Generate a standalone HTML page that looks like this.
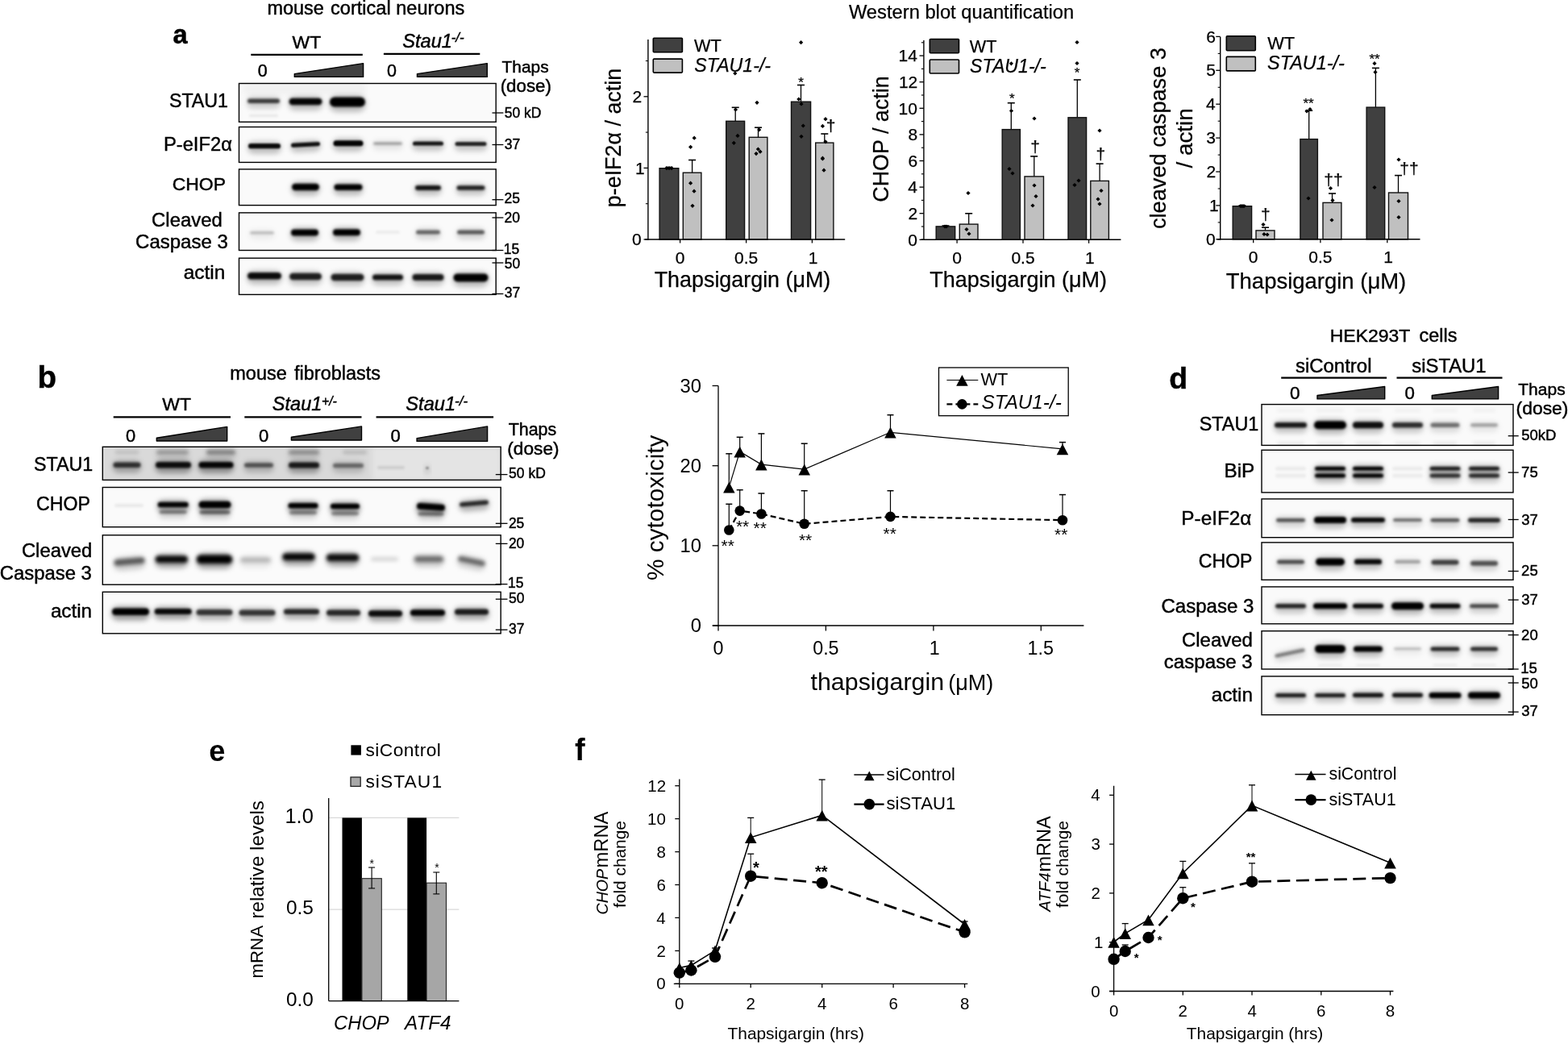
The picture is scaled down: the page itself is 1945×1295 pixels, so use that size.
<!DOCTYPE html><html><head><meta charset="utf-8"><title>Figure</title><style>html,body{margin:0;padding:0;background:#fff;width:1945px;height:1295px;overflow:hidden}svg{display:block}</style></head><body><svg width="1945" height="1295" viewBox="0 0 1945 1295" font-family='"Liberation Sans", Arial, sans-serif'><defs><filter id="b0" x="-50%" y="-400%" width="200%" height="900%"><feGaussianBlur stdDeviation="3.0"/></filter><filter id="b1" x="-50%" y="-400%" width="200%" height="900%"><feGaussianBlur stdDeviation="1.4"/></filter><filter id="b2" x="-50%" y="-400%" width="200%" height="900%"><feGaussianBlur stdDeviation="1.5"/></filter><filter id="b3" x="-50%" y="-400%" width="200%" height="900%"><feGaussianBlur stdDeviation="1.3"/></filter><filter id="b4" x="-50%" y="-400%" width="200%" height="900%"><feGaussianBlur stdDeviation="2.0"/></filter><filter id="b5" x="-50%" y="-400%" width="200%" height="900%"><feGaussianBlur stdDeviation="1.6"/></filter><filter id="b6" x="-50%" y="-400%" width="200%" height="900%"><feGaussianBlur stdDeviation="1.8"/></filter><filter id="b7" x="-50%" y="-400%" width="200%" height="900%"><feGaussianBlur stdDeviation="1.2"/></filter><filter id="b8" x="-50%" y="-400%" width="200%" height="900%"><feGaussianBlur stdDeviation="2.3"/></filter><filter id="b9" x="-50%" y="-400%" width="200%" height="900%"><feGaussianBlur stdDeviation="2.6"/></filter><filter id="b10" x="-50%" y="-400%" width="200%" height="900%"><feGaussianBlur stdDeviation="2.4"/></filter><filter id="b11" x="-50%" y="-400%" width="200%" height="900%"><feGaussianBlur stdDeviation="1.9"/></filter><filter id="b12" x="-50%" y="-400%" width="200%" height="900%"><feGaussianBlur stdDeviation="2.2"/></filter></defs><rect width="1945" height="1295" fill="#fff"/><text x="214.4" y="54.0" font-size="32.52" font-weight="bold" stroke="#000" stroke-width="0.45">a</text>
<text x="331.4" y="17.5" font-size="23.49" stroke="#000" stroke-width="0.45">mouse</text>
<text x="410.1" y="17.5" font-size="23.56" stroke="#000" stroke-width="0.45">cortical neurons</text>
<text x="362.6" y="59.6" font-size="22.88" stroke="#000" stroke-width="0.45">WT</text>
<line x1="311.3" y1="67.9" x2="449.8" y2="67.9" stroke="#000" stroke-width="2.2"/>
<text x="499.2" y="58.9" font-size="23.65" font-style="italic" stroke="#000" stroke-width="0.45">Stau1</text>
<text x="559.7" y="52.3" font-size="17.01" font-style="italic" stroke="#000" stroke-width="0.45">-/-</text>
<line x1="475.9" y1="66.9" x2="595.3" y2="66.9" stroke="#000" stroke-width="2.2"/>
<text x="319.7" y="94.6" font-size="21.46" stroke="#000" stroke-width="0.45">0</text>
<text x="480.1" y="94.6" font-size="21.46" stroke="#000" stroke-width="0.45">0</text>
<polygon points="365.3,95.4 365.3,91.6 450.6,78.6 450.6,95.4" fill="#404040" stroke="#000" stroke-width="1.4" stroke-linejoin="round"/>
<polygon points="517.5,95.4 517.5,91.6 604.3,78.6 604.3,95.4" fill="#404040" stroke="#000" stroke-width="1.4" stroke-linejoin="round"/>
<text x="622.6" y="89.5" font-size="20.92" stroke="#000" stroke-width="0.45">Thaps</text>
<text x="620.7" y="114.0" font-size="22.32" stroke="#000" stroke-width="0.45">(dose)</text>
<rect x="296.5" y="103.5" width="318.7" height="47.8" fill="#fafafa" stroke="none" stroke-width="1.0"/>
<rect x="296.5" y="157.5" width="318.7" height="43.9" fill="#fafafa" stroke="none" stroke-width="1.0"/>
<rect x="296.5" y="209.9" width="318.7" height="44.7" fill="#fafafa" stroke="none" stroke-width="1.0"/>
<rect x="296.5" y="263.9" width="318.7" height="46.6" fill="#fafafa" stroke="none" stroke-width="1.0"/>
<rect x="296.5" y="320.2" width="318.7" height="45.2" fill="#fafafa" stroke="none" stroke-width="1.0"/>
<rect x="302" y="104" width="152" height="14" fill="#000" fill-opacity="0.035" filter="url(#b0)"/>
<rect x="306.0" y="120.0" width="42.0" height="14.5" rx="7.2" fill="#000" fill-opacity="0.180" filter="url(#b0)"/>
<rect x="307.0" y="122.5" width="40.0" height="5.5" rx="2.8" fill="#000" fill-opacity="0.720" filter="url(#b1)"/>
<rect x="309.0" y="142.0" width="36.0" height="3.0" rx="1.5" fill="#000" fill-opacity="0.080" filter="url(#b2)"/>
<rect x="357.5" y="119.2" width="43.0" height="17.5" rx="8.8" fill="#000" fill-opacity="0.245" filter="url(#b0)"/>
<rect x="358.5" y="121.8" width="41.0" height="8.5" rx="4.2" fill="#000" fill-opacity="0.980" filter="url(#b1)"/>
<rect x="408.0" y="118.0" width="46.0" height="21.0" rx="10.5" fill="#000" fill-opacity="0.250" filter="url(#b0)"/>
<rect x="409.0" y="120.5" width="44.0" height="12.0" rx="6.0" fill="#000" fill-opacity="1.000" filter="url(#b2)"/>
<rect x="307.0" y="175.6" width="42.0" height="15.2" rx="7.6" fill="#000" fill-opacity="0.237" filter="url(#b0)"/>
<rect x="308.0" y="178.1" width="40.0" height="6.2" rx="3.1" fill="#000" fill-opacity="0.950" filter="url(#b3)"/>
<rect x="360.0" y="174.2" width="38.0" height="14.2" rx="7.1" fill="#000" fill-opacity="0.230" filter="url(#b0)" transform="rotate(-3 379.0 179.3)"/>
<rect x="361.0" y="176.7" width="36.0" height="5.2" rx="2.6" fill="#000" fill-opacity="0.920" filter="url(#b3)" transform="rotate(-3 379.0 179.3)"/>
<rect x="412.5" y="171.7" width="39.0" height="16.0" rx="8.0" fill="#000" fill-opacity="0.245" filter="url(#b0)"/>
<rect x="413.5" y="174.2" width="37.0" height="7.0" rx="3.5" fill="#000" fill-opacity="0.980" filter="url(#b3)"/>
<rect x="462.0" y="173.7" width="38.0" height="12.6" rx="6.3" fill="#000" fill-opacity="0.080" filter="url(#b0)"/>
<rect x="463.0" y="176.2" width="36.0" height="3.6" rx="1.8" fill="#000" fill-opacity="0.320" filter="url(#b1)"/>
<rect x="511.0" y="172.9" width="40.0" height="14.2" rx="7.1" fill="#000" fill-opacity="0.220" filter="url(#b0)"/>
<rect x="512.0" y="175.4" width="38.0" height="5.2" rx="2.6" fill="#000" fill-opacity="0.880" filter="url(#b3)"/>
<rect x="563.5" y="173.5" width="41.0" height="14.0" rx="7.0" fill="#000" fill-opacity="0.205" filter="url(#b0)"/>
<rect x="564.5" y="176.0" width="39.0" height="5.0" rx="2.5" fill="#000" fill-opacity="0.820" filter="url(#b3)"/>
<rect x="361.0" y="225.2" width="36.0" height="17.5" rx="8.8" fill="#000" fill-opacity="0.250" filter="url(#b0)"/>
<rect x="362.0" y="227.8" width="34.0" height="8.5" rx="4.2" fill="#000" fill-opacity="1.000" filter="url(#b1)"/>
<rect x="413.5" y="226.1" width="37.0" height="16.5" rx="8.2" fill="#000" fill-opacity="0.250" filter="url(#b0)"/>
<rect x="414.5" y="228.6" width="35.0" height="7.5" rx="3.8" fill="#000" fill-opacity="1.000" filter="url(#b1)"/>
<rect x="514.0" y="227.5" width="34.0" height="15.0" rx="7.5" fill="#000" fill-opacity="0.225" filter="url(#b0)"/>
<rect x="515.0" y="230.0" width="32.0" height="6.0" rx="3.0" fill="#000" fill-opacity="0.900" filter="url(#b1)"/>
<rect x="565.5" y="227.8" width="37.0" height="14.5" rx="7.2" fill="#000" fill-opacity="0.212" filter="url(#b0)"/>
<rect x="566.5" y="230.2" width="35.0" height="5.5" rx="2.8" fill="#000" fill-opacity="0.850" filter="url(#b1)"/>
<rect x="309.0" y="284.4" width="32.0" height="12.5" rx="6.2" fill="#000" fill-opacity="0.055" filter="url(#b0)"/>
<rect x="310.0" y="286.9" width="30.0" height="3.5" rx="1.8" fill="#000" fill-opacity="0.220" filter="url(#b2)"/>
<rect x="360.0" y="282.1" width="36.0" height="17.0" rx="8.5" fill="#000" fill-opacity="0.250" filter="url(#b0)"/>
<rect x="361.0" y="284.6" width="34.0" height="8.0" rx="4.0" fill="#000" fill-opacity="1.000" filter="url(#b1)"/>
<rect x="412.0" y="281.8" width="36.0" height="17.0" rx="8.5" fill="#000" fill-opacity="0.250" filter="url(#b0)"/>
<rect x="413.0" y="284.3" width="34.0" height="8.0" rx="4.0" fill="#000" fill-opacity="1.000" filter="url(#b1)"/>
<rect x="466.0" y="286.5" width="30.0" height="3.0" rx="1.5" fill="#000" fill-opacity="0.070" filter="url(#b2)"/>
<rect x="515.0" y="283.0" width="32.0" height="14.0" rx="7.0" fill="#000" fill-opacity="0.138" filter="url(#b0)"/>
<rect x="516.0" y="285.5" width="30.0" height="5.0" rx="2.5" fill="#000" fill-opacity="0.550" filter="url(#b2)"/>
<rect x="566.0" y="283.0" width="36.0" height="14.0" rx="7.0" fill="#000" fill-opacity="0.150" filter="url(#b0)"/>
<rect x="567.0" y="285.5" width="34.0" height="5.0" rx="2.5" fill="#000" fill-opacity="0.600" filter="url(#b2)"/>
<rect x="306.0" y="335.4" width="44.0" height="17.5" rx="8.8" fill="#000" fill-opacity="0.237" filter="url(#b0)"/>
<rect x="307.0" y="337.9" width="42.0" height="8.5" rx="4.2" fill="#000" fill-opacity="0.950" filter="url(#b2)"/>
<rect x="358.0" y="336.2" width="42.0" height="17.5" rx="8.8" fill="#000" fill-opacity="0.212" filter="url(#b0)"/>
<rect x="359.0" y="338.8" width="40.0" height="8.5" rx="4.2" fill="#000" fill-opacity="0.850" filter="url(#b2)"/>
<rect x="409.5" y="337.2" width="43.0" height="17.5" rx="8.8" fill="#000" fill-opacity="0.212" filter="url(#b0)"/>
<rect x="410.5" y="339.8" width="41.0" height="8.5" rx="4.2" fill="#000" fill-opacity="0.850" filter="url(#b2)"/>
<rect x="461.0" y="338.0" width="40.0" height="16.0" rx="8.0" fill="#000" fill-opacity="0.225" filter="url(#b0)"/>
<rect x="462.0" y="340.5" width="38.0" height="7.0" rx="3.5" fill="#000" fill-opacity="0.900" filter="url(#b2)"/>
<rect x="510.5" y="337.5" width="41.0" height="17.0" rx="8.5" fill="#000" fill-opacity="0.220" filter="url(#b0)"/>
<rect x="511.5" y="340.0" width="39.0" height="8.0" rx="4.0" fill="#000" fill-opacity="0.880" filter="url(#b2)"/>
<rect x="561.5" y="336.9" width="45.0" height="19.0" rx="9.5" fill="#000" fill-opacity="0.250" filter="url(#b0)"/>
<rect x="562.5" y="339.4" width="43.0" height="10.0" rx="5.0" fill="#000" fill-opacity="1.000" filter="url(#b2)"/>
<rect x="296.5" y="103.5" width="318.7" height="47.8" fill="none" stroke="#000" stroke-width="1.4"/>
<rect x="296.5" y="157.5" width="318.7" height="43.9" fill="none" stroke="#000" stroke-width="1.4"/>
<rect x="296.5" y="209.9" width="318.7" height="44.7" fill="none" stroke="#000" stroke-width="1.4"/>
<rect x="296.5" y="263.9" width="318.7" height="46.6" fill="none" stroke="#000" stroke-width="1.4"/>
<rect x="296.5" y="320.2" width="318.7" height="45.2" fill="none" stroke="#000" stroke-width="1.4"/>
<text x="209.9" y="132.8" font-size="23.23" stroke="#000" stroke-width="0.45">STAU1</text>
<text x="202.9" y="186.8" font-size="23.78" stroke="#000" stroke-width="0.45">P-eIF2α</text>
<text x="213.7" y="236.1" font-size="22.98" stroke="#000" stroke-width="0.45">CHOP</text>
<text x="188.1" y="280.8" font-size="23.88" stroke="#000" stroke-width="0.45">Cleaved</text>
<text x="168.1" y="308.3" font-size="24.01" stroke="#000" stroke-width="0.45">Caspase 3</text>
<text x="227.7" y="345.6" font-size="24.44" stroke="#000" stroke-width="0.45">actin</text>
<line x1="610.5" y1="140.0" x2="624.4" y2="140.0" stroke="#000" stroke-width="1.3"/>
<text x="625.8" y="145.9" font-size="17.5" stroke="#000" stroke-width="0.45">50 kD</text>
<line x1="610.5" y1="179.5" x2="624.4" y2="179.5" stroke="#000" stroke-width="1.3"/>
<text x="625.8" y="185.2" font-size="17.5" stroke="#000" stroke-width="0.45">37</text>
<line x1="610.5" y1="247.7" x2="624.4" y2="247.7" stroke="#000" stroke-width="1.3"/>
<text x="625.6" y="252.3" font-size="17.5" stroke="#000" stroke-width="0.45">25</text>
<line x1="610.5" y1="270.0" x2="624.4" y2="270.0" stroke="#000" stroke-width="1.3"/>
<text x="625.6" y="276.2" font-size="17.5" stroke="#000" stroke-width="0.45">20</text>
<line x1="610.5" y1="310.5" x2="624.4" y2="310.5" stroke="#000" stroke-width="1.3"/>
<text x="624.8" y="314.8" font-size="17.5" stroke="#000" stroke-width="0.45">15</text>
<line x1="610.5" y1="326.0" x2="624.4" y2="326.0" stroke="#000" stroke-width="1.3"/>
<text x="625.8" y="332.5" font-size="17.5" stroke="#000" stroke-width="0.45">50</text>
<line x1="610.5" y1="364.5" x2="624.4" y2="364.5" stroke="#000" stroke-width="1.3"/>
<text x="625.8" y="368.8" font-size="17.5" stroke="#000" stroke-width="0.45">37</text>
<text x="1052.9" y="23.1" font-size="23.74" stroke="#000" stroke-width="0.25">Western blot quantification</text>
<line x1="830.0" y1="208.7" x2="830.0" y2="207.5" stroke="#000" stroke-width="1.3"/>
<line x1="825.5" y1="207.5" x2="834.5" y2="207.5" stroke="#000" stroke-width="1.6"/>
<line x1="858.6" y1="214.2" x2="858.6" y2="198.5" stroke="#000" stroke-width="1.3"/>
<line x1="854.1" y1="198.5" x2="863.1" y2="198.5" stroke="#000" stroke-width="1.6"/>
<line x1="912.2" y1="150.3" x2="912.2" y2="133.3" stroke="#000" stroke-width="1.3"/>
<line x1="907.7" y1="133.3" x2="916.7" y2="133.3" stroke="#000" stroke-width="1.6"/>
<line x1="940.5" y1="170.3" x2="940.5" y2="158.2" stroke="#000" stroke-width="1.3"/>
<line x1="936.0" y1="158.2" x2="945.0" y2="158.2" stroke="#000" stroke-width="1.6"/>
<line x1="993.5" y1="126.2" x2="993.5" y2="105.5" stroke="#000" stroke-width="1.3"/>
<line x1="989.0" y1="105.5" x2="998.0" y2="105.5" stroke="#000" stroke-width="1.6"/>
<line x1="1022.8" y1="177.1" x2="1022.8" y2="166.0" stroke="#000" stroke-width="1.3"/>
<line x1="1018.3" y1="166.0" x2="1027.3" y2="166.0" stroke="#000" stroke-width="1.6"/>
<rect x="818.1" y="208.7" width="23.7" height="88.3" fill="#404040" stroke="#111" stroke-width="1.4"/>
<rect x="847.3" y="214.2" width="22.6" height="82.8" fill="#c0c0c0" stroke="#111" stroke-width="1.4"/>
<rect x="900.7" y="150.3" width="22.9" height="146.7" fill="#404040" stroke="#111" stroke-width="1.4"/>
<rect x="929.2" y="170.3" width="22.7" height="126.7" fill="#c0c0c0" stroke="#111" stroke-width="1.4"/>
<rect x="981.5" y="126.2" width="24.1" height="170.8" fill="#404040" stroke="#111" stroke-width="1.4"/>
<rect x="1011.7" y="177.1" width="22.2" height="119.9" fill="#c0c0c0" stroke="#111" stroke-width="1.4"/>
<line x1="803.9" y1="49.0" x2="803.9" y2="297.7" stroke="#000" stroke-width="1.4"/>
<line x1="800.2" y1="297.0" x2="1048.2" y2="297.0" stroke="#000" stroke-width="1.4"/>
<line x1="798.5" y1="297.0" x2="803.9" y2="297.0" stroke="#000" stroke-width="1.3"/>
<text x="784.1" y="304.2" font-size="21" stroke="#000" stroke-width="0.25">0</text>
<line x1="798.5" y1="208.4" x2="803.9" y2="208.4" stroke="#000" stroke-width="1.3"/>
<text x="787.9" y="215.6" font-size="21" stroke="#000" stroke-width="0.25">1</text>
<line x1="798.5" y1="119.8" x2="803.9" y2="119.8" stroke="#000" stroke-width="1.3"/>
<text x="784.4" y="127.2" font-size="21" stroke="#000" stroke-width="0.25">2</text>
<line x1="800.9" y1="252.7" x2="803.9" y2="252.7" stroke="#000" stroke-width="1.1"/>
<line x1="800.9" y1="164.1" x2="803.9" y2="164.1" stroke="#000" stroke-width="1.1"/>
<line x1="800.9" y1="75.5" x2="803.9" y2="75.5" stroke="#000" stroke-width="1.1"/>
<line x1="843.6" y1="297.0" x2="843.6" y2="301.5" stroke="#000" stroke-width="1.3"/>
<text x="837.7" y="326.5" font-size="21" stroke="#000" stroke-width="0.25">0</text>
<line x1="925.6" y1="297.0" x2="925.6" y2="301.5" stroke="#000" stroke-width="1.3"/>
<text x="911.0" y="326.5" font-size="21" stroke="#000" stroke-width="0.25">0.5</text>
<line x1="1007.4" y1="297.0" x2="1007.4" y2="301.5" stroke="#000" stroke-width="1.3"/>
<text x="1002.8" y="326.5" font-size="21" stroke="#000" stroke-width="0.25">1</text>
<rect x="810.3" y="47.2" width="36.1" height="17.6" fill="#404040" stroke="#000" stroke-width="1.6" rx="1"/>
<rect x="810.3" y="73.1" width="36.1" height="17.0" fill="#c0c0c0" stroke="#000" stroke-width="1.6" rx="1"/>
<text x="861.1" y="63.5" font-size="21.76" stroke="#000" stroke-width="0.25">WT</text>
<text x="861.3" y="89.4" font-size="23.17" font-style="italic" stroke="#000" stroke-width="0.25">STAU1-/-</text>
<text x="811.7" y="355.5" font-size="26.89" stroke="#000" stroke-width="0.25">Thapsigargin (μM)</text>
<text x="769.7" y="257.2" font-size="26.89" transform="rotate(-90 769.7 257.2)" stroke="#000" stroke-width="0.25">p-eIF2α / actin</text>
<polygon points="993.6,50.1 996.2,52.7 993.6,55.3 991.0,52.7" fill="#000" stroke="none" stroke-width="1.0" stroke-linejoin="round"/>
<polygon points="911.8,88.4 914.4,91.0 911.8,93.6 909.2,91.0" fill="#000" stroke="none" stroke-width="1.0" stroke-linejoin="round"/>
<polygon points="939.0,124.7 941.6,127.3 939.0,129.9 936.4,127.3" fill="#000" stroke="none" stroke-width="1.0" stroke-linejoin="round"/>
<polygon points="912.5,133.4 915.1,136.0 912.5,138.6 909.9,136.0" fill="#000" stroke="none" stroke-width="1.0" stroke-linejoin="round"/>
<polygon points="990.8,120.4 993.4,123.0 990.8,125.6 988.2,123.0" fill="#000" stroke="none" stroke-width="1.0" stroke-linejoin="round"/>
<polygon points="994.0,126.4 996.6,129.0 994.0,131.6 991.4,129.0" fill="#000" stroke="none" stroke-width="1.0" stroke-linejoin="round"/>
<polygon points="996.3,153.4 998.9,156.0 996.3,158.6 993.7,156.0" fill="#000" stroke="none" stroke-width="1.0" stroke-linejoin="round"/>
<polygon points="994.0,166.7 996.6,169.3 994.0,171.9 991.4,169.3" fill="#000" stroke="none" stroke-width="1.0" stroke-linejoin="round"/>
<polygon points="1024.0,145.1 1026.6,147.7 1024.0,150.3 1021.4,147.7" fill="#000" stroke="none" stroke-width="1.0" stroke-linejoin="round"/>
<polygon points="1020.4,153.8 1023.0,156.4 1020.4,159.0 1017.8,156.4" fill="#000" stroke="none" stroke-width="1.0" stroke-linejoin="round"/>
<polygon points="1024.0,173.2 1026.6,175.8 1024.0,178.4 1021.4,175.8" fill="#000" stroke="none" stroke-width="1.0" stroke-linejoin="round"/>
<polygon points="1020.4,193.6 1023.0,196.2 1020.4,198.8 1017.8,196.2" fill="#000" stroke="none" stroke-width="1.0" stroke-linejoin="round"/>
<polygon points="941.7,158.4 944.3,161.0 941.7,163.6 939.1,161.0" fill="#000" stroke="none" stroke-width="1.0" stroke-linejoin="round"/>
<polygon points="915.0,165.8 917.6,168.4 915.0,171.0 912.4,168.4" fill="#000" stroke="none" stroke-width="1.0" stroke-linejoin="round"/>
<polygon points="910.3,174.7 912.9,177.3 910.3,179.9 907.7,177.3" fill="#000" stroke="none" stroke-width="1.0" stroke-linejoin="round"/>
<polygon points="940.4,182.4 943.0,185.0 940.4,187.6 937.8,185.0" fill="#000" stroke="none" stroke-width="1.0" stroke-linejoin="round"/>
<polygon points="938.0,188.0 940.6,190.6 938.0,193.2 935.4,190.6" fill="#000" stroke="none" stroke-width="1.0" stroke-linejoin="round"/>
<polygon points="943.0,185.6 945.6,188.2 943.0,190.8 940.4,188.2" fill="#000" stroke="none" stroke-width="1.0" stroke-linejoin="round"/>
<polygon points="861.2,168.6 863.8,171.2 861.2,173.8 858.6,171.2" fill="#000" stroke="none" stroke-width="1.0" stroke-linejoin="round"/>
<polygon points="856.6,179.7 859.2,182.3 856.6,184.9 854.0,182.3" fill="#000" stroke="none" stroke-width="1.0" stroke-linejoin="round"/>
<polygon points="856.6,224.6 859.2,227.2 856.6,229.8 854.0,227.2" fill="#000" stroke="none" stroke-width="1.0" stroke-linejoin="round"/>
<polygon points="861.0,234.6 863.6,237.2 861.0,239.8 858.4,237.2" fill="#000" stroke="none" stroke-width="1.0" stroke-linejoin="round"/>
<polygon points="859.0,252.7 861.6,255.3 859.0,257.9 856.4,255.3" fill="#000" stroke="none" stroke-width="1.0" stroke-linejoin="round"/>
<polygon points="827.0,206.1 829.6,208.7 827.0,211.3 824.4,208.7" fill="#000" stroke="none" stroke-width="1.0" stroke-linejoin="round"/>
<polygon points="830.0,206.1 832.6,208.7 830.0,211.3 827.4,208.7" fill="#000" stroke="none" stroke-width="1.0" stroke-linejoin="round"/>
<polygon points="833.0,206.1 835.6,208.7 833.0,211.3 830.4,208.7" fill="#000" stroke="none" stroke-width="1.0" stroke-linejoin="round"/>
<polygon points="1020.4,194.4 1023.0,197.0 1020.4,199.6 1017.8,197.0" fill="#000" stroke="none" stroke-width="1.0" stroke-linejoin="round"/>
<polygon points="1022.0,208.6 1024.6,211.2 1022.0,213.8 1019.4,211.2" fill="#000" stroke="none" stroke-width="1.0" stroke-linejoin="round"/>
<text x="990.3" y="108.3" font-size="17" stroke="#000" stroke-width="0.25">*</text>
<text x="1024.8" y="162.9" font-size="21" stroke="#000" stroke-width="0.25">†</text>
<line x1="1173.0" y1="280.9" x2="1173.0" y2="280.0" stroke="#000" stroke-width="1.3"/>
<line x1="1168.5" y1="280.0" x2="1177.5" y2="280.0" stroke="#000" stroke-width="1.6"/>
<line x1="1201.7" y1="278.1" x2="1201.7" y2="264.8" stroke="#000" stroke-width="1.3"/>
<line x1="1197.2" y1="264.8" x2="1206.2" y2="264.8" stroke="#000" stroke-width="1.6"/>
<line x1="1254.3" y1="160.6" x2="1254.3" y2="127.7" stroke="#000" stroke-width="1.3"/>
<line x1="1249.8" y1="127.7" x2="1258.8" y2="127.7" stroke="#000" stroke-width="1.6"/>
<line x1="1282.8" y1="218.9" x2="1282.8" y2="193.9" stroke="#000" stroke-width="1.3"/>
<line x1="1278.2" y1="193.9" x2="1287.2" y2="193.9" stroke="#000" stroke-width="1.6"/>
<line x1="1336.3" y1="145.8" x2="1336.3" y2="99.0" stroke="#000" stroke-width="1.3"/>
<line x1="1331.8" y1="99.0" x2="1340.8" y2="99.0" stroke="#000" stroke-width="1.6"/>
<line x1="1364.1" y1="224.4" x2="1364.1" y2="203.1" stroke="#000" stroke-width="1.3"/>
<line x1="1359.6" y1="203.1" x2="1368.6" y2="203.1" stroke="#000" stroke-width="1.6"/>
<rect x="1161.2" y="280.9" width="23.5" height="16.4" fill="#404040" stroke="#111" stroke-width="1.4"/>
<rect x="1190.3" y="278.1" width="22.7" height="19.2" fill="#c0c0c0" stroke="#111" stroke-width="1.4"/>
<rect x="1243.2" y="160.6" width="22.2" height="136.7" fill="#404040" stroke="#111" stroke-width="1.4"/>
<rect x="1271.0" y="218.9" width="23.5" height="78.4" fill="#c0c0c0" stroke="#111" stroke-width="1.4"/>
<rect x="1325.0" y="145.8" width="22.6" height="151.5" fill="#404040" stroke="#111" stroke-width="1.4"/>
<rect x="1352.8" y="224.4" width="22.6" height="72.9" fill="#c0c0c0" stroke="#111" stroke-width="1.4"/>
<line x1="1145.9" y1="50.0" x2="1145.9" y2="298.0" stroke="#000" stroke-width="1.4"/>
<line x1="1142.7" y1="297.3" x2="1390.4" y2="297.3" stroke="#000" stroke-width="1.4"/>
<line x1="1140.5" y1="297.3" x2="1145.9" y2="297.3" stroke="#000" stroke-width="1.3"/>
<text x="1126.3" y="304.5" font-size="21" stroke="#000" stroke-width="0.25">0</text>
<line x1="1140.5" y1="264.7" x2="1145.9" y2="264.7" stroke="#000" stroke-width="1.3"/>
<text x="1126.6" y="272.1" font-size="21" stroke="#000" stroke-width="0.25">2</text>
<line x1="1140.5" y1="232.1" x2="1145.9" y2="232.1" stroke="#000" stroke-width="1.3"/>
<text x="1126.2" y="239.3" font-size="21" stroke="#000" stroke-width="0.25">4</text>
<line x1="1140.5" y1="199.5" x2="1145.9" y2="199.5" stroke="#000" stroke-width="1.3"/>
<text x="1126.4" y="206.7" font-size="21" stroke="#000" stroke-width="0.25">6</text>
<line x1="1140.5" y1="166.9" x2="1145.9" y2="166.9" stroke="#000" stroke-width="1.3"/>
<text x="1126.4" y="174.1" font-size="21" stroke="#000" stroke-width="0.25">8</text>
<line x1="1140.5" y1="134.3" x2="1145.9" y2="134.3" stroke="#000" stroke-width="1.3"/>
<text x="1114.6" y="141.5" font-size="21" stroke="#000" stroke-width="0.25">10</text>
<line x1="1140.5" y1="101.7" x2="1145.9" y2="101.7" stroke="#000" stroke-width="1.3"/>
<text x="1114.9" y="109.0" font-size="21" stroke="#000" stroke-width="0.25">12</text>
<line x1="1140.5" y1="69.1" x2="1145.9" y2="69.1" stroke="#000" stroke-width="1.3"/>
<text x="1114.5" y="76.3" font-size="21" stroke="#000" stroke-width="0.25">14</text>
<line x1="1142.9" y1="281.0" x2="1145.9" y2="281.0" stroke="#000" stroke-width="1.1"/>
<line x1="1142.9" y1="248.4" x2="1145.9" y2="248.4" stroke="#000" stroke-width="1.1"/>
<line x1="1142.9" y1="215.8" x2="1145.9" y2="215.8" stroke="#000" stroke-width="1.1"/>
<line x1="1142.9" y1="183.2" x2="1145.9" y2="183.2" stroke="#000" stroke-width="1.1"/>
<line x1="1142.9" y1="150.6" x2="1145.9" y2="150.6" stroke="#000" stroke-width="1.1"/>
<line x1="1142.9" y1="118.0" x2="1145.9" y2="118.0" stroke="#000" stroke-width="1.1"/>
<line x1="1142.9" y1="85.4" x2="1145.9" y2="85.4" stroke="#000" stroke-width="1.1"/>
<line x1="1142.9" y1="52.8" x2="1145.9" y2="52.8" stroke="#000" stroke-width="1.1"/>
<line x1="1187.1" y1="297.3" x2="1187.1" y2="301.8" stroke="#000" stroke-width="1.3"/>
<text x="1181.2" y="326.8" font-size="21" stroke="#000" stroke-width="0.25">0</text>
<line x1="1269.0" y1="297.3" x2="1269.0" y2="301.8" stroke="#000" stroke-width="1.3"/>
<text x="1254.4" y="326.8" font-size="21" stroke="#000" stroke-width="0.25">0.5</text>
<line x1="1350.6" y1="297.3" x2="1350.6" y2="301.8" stroke="#000" stroke-width="1.3"/>
<text x="1346.0" y="326.8" font-size="21" stroke="#000" stroke-width="0.25">1</text>
<rect x="1153.3" y="48.5" width="36.2" height="17.2" fill="#404040" stroke="#000" stroke-width="1.6" rx="1"/>
<rect x="1153.3" y="74.0" width="36.2" height="17.0" fill="#c0c0c0" stroke="#000" stroke-width="1.6" rx="1"/>
<text x="1202.8" y="65.0" font-size="21.63" stroke="#000" stroke-width="0.25">WT</text>
<text x="1203.1" y="89.5" font-size="23.14" font-style="italic" stroke="#000" stroke-width="0.25">STAU1-/-</text>
<text x="1153.3" y="355.5" font-size="27.02" stroke="#000" stroke-width="0.25">Thapsigargin (μM)</text>
<text x="1102.0" y="250.7" font-size="26.88" transform="rotate(-90 1102.0 250.7)" stroke="#000" stroke-width="0.25">CHOP / actin</text>
<polygon points="1336.0,49.9 1338.6,52.5 1336.0,55.1 1333.4,52.5" fill="#000" stroke="none" stroke-width="1.0" stroke-linejoin="round"/>
<polygon points="1336.0,75.9 1338.6,78.5 1336.0,81.1 1333.4,78.5" fill="#000" stroke="none" stroke-width="1.0" stroke-linejoin="round"/>
<polygon points="1254.4,76.2 1257.0,78.8 1254.4,81.4 1251.8,78.8" fill="#000" stroke="none" stroke-width="1.0" stroke-linejoin="round"/>
<polygon points="1254.5,134.9 1257.1,137.5 1254.5,140.1 1251.9,137.5" fill="#000" stroke="none" stroke-width="1.0" stroke-linejoin="round"/>
<polygon points="1283.0,144.4 1285.6,147.0 1283.0,149.6 1280.4,147.0" fill="#000" stroke="none" stroke-width="1.0" stroke-linejoin="round"/>
<polygon points="1364.0,159.4 1366.6,162.0 1364.0,164.6 1361.4,162.0" fill="#000" stroke="none" stroke-width="1.0" stroke-linejoin="round"/>
<polygon points="1252.0,206.9 1254.6,209.5 1252.0,212.1 1249.4,209.5" fill="#000" stroke="none" stroke-width="1.0" stroke-linejoin="round"/>
<polygon points="1256.0,212.4 1258.6,215.0 1256.0,217.6 1253.4,215.0" fill="#000" stroke="none" stroke-width="1.0" stroke-linejoin="round"/>
<polygon points="1283.0,227.4 1285.6,230.0 1283.0,232.6 1280.4,230.0" fill="#000" stroke="none" stroke-width="1.0" stroke-linejoin="round"/>
<polygon points="1285.0,240.9 1287.6,243.5 1285.0,246.1 1282.4,243.5" fill="#000" stroke="none" stroke-width="1.0" stroke-linejoin="round"/>
<polygon points="1281.0,252.4 1283.6,255.0 1281.0,257.6 1278.4,255.0" fill="#000" stroke="none" stroke-width="1.0" stroke-linejoin="round"/>
<polygon points="1333.0,226.9 1335.6,229.5 1333.0,232.1 1330.4,229.5" fill="#000" stroke="none" stroke-width="1.0" stroke-linejoin="round"/>
<polygon points="1338.0,221.4 1340.6,224.0 1338.0,226.6 1335.4,224.0" fill="#000" stroke="none" stroke-width="1.0" stroke-linejoin="round"/>
<polygon points="1366.0,233.9 1368.6,236.5 1366.0,239.1 1363.4,236.5" fill="#000" stroke="none" stroke-width="1.0" stroke-linejoin="round"/>
<polygon points="1362.0,244.4 1364.6,247.0 1362.0,249.6 1359.4,247.0" fill="#000" stroke="none" stroke-width="1.0" stroke-linejoin="round"/>
<polygon points="1364.0,250.4 1366.6,253.0 1364.0,255.6 1361.4,253.0" fill="#000" stroke="none" stroke-width="1.0" stroke-linejoin="round"/>
<polygon points="1201.0,236.9 1203.6,239.5 1201.0,242.1 1198.4,239.5" fill="#000" stroke="none" stroke-width="1.0" stroke-linejoin="round"/>
<polygon points="1199.0,281.9 1201.6,284.5 1199.0,287.1 1196.4,284.5" fill="#000" stroke="none" stroke-width="1.0" stroke-linejoin="round"/>
<polygon points="1202.0,287.4 1204.6,290.0 1202.0,292.6 1199.4,290.0" fill="#000" stroke="none" stroke-width="1.0" stroke-linejoin="round"/>
<polygon points="1172.0,278.4 1174.6,281.0 1172.0,283.6 1169.4,281.0" fill="#000" stroke="none" stroke-width="1.0" stroke-linejoin="round"/>
<polygon points="1174.0,278.4 1176.6,281.0 1174.0,283.6 1171.4,281.0" fill="#000" stroke="none" stroke-width="1.0" stroke-linejoin="round"/>
<text x="1251.9" y="127.8" font-size="17" stroke="#000" stroke-width="0.25">*</text>
<text x="1332.7" y="96.3" font-size="17" stroke="#000" stroke-width="0.25">*</text>
<text x="1278.2" y="188.9" font-size="21" stroke="#000" stroke-width="0.25">†</text>
<text x="1359.4" y="197.9" font-size="21" stroke="#000" stroke-width="0.25">†</text>
<line x1="1540.9" y1="255.7" x2="1540.9" y2="255.0" stroke="#000" stroke-width="1.3"/>
<line x1="1536.4" y1="255.0" x2="1545.4" y2="255.0" stroke="#000" stroke-width="1.6"/>
<line x1="1569.5" y1="285.9" x2="1569.5" y2="282.2" stroke="#000" stroke-width="1.3"/>
<line x1="1565.0" y1="282.2" x2="1574.0" y2="282.2" stroke="#000" stroke-width="1.6"/>
<line x1="1623.7" y1="172.6" x2="1623.7" y2="137.2" stroke="#000" stroke-width="1.3"/>
<line x1="1619.2" y1="137.2" x2="1628.2" y2="137.2" stroke="#000" stroke-width="1.6"/>
<line x1="1652.5" y1="251.4" x2="1652.5" y2="240.0" stroke="#000" stroke-width="1.3"/>
<line x1="1648.0" y1="240.0" x2="1657.0" y2="240.0" stroke="#000" stroke-width="1.6"/>
<line x1="1706.4" y1="133.1" x2="1706.4" y2="84.4" stroke="#000" stroke-width="1.3"/>
<line x1="1701.9" y1="84.4" x2="1710.9" y2="84.4" stroke="#000" stroke-width="1.6"/>
<line x1="1734.5" y1="239.0" x2="1734.5" y2="217.6" stroke="#000" stroke-width="1.3"/>
<line x1="1730.0" y1="217.6" x2="1739.0" y2="217.6" stroke="#000" stroke-width="1.6"/>
<rect x="1529.2" y="255.7" width="23.4" height="41.1" fill="#404040" stroke="#111" stroke-width="1.4"/>
<rect x="1558.0" y="285.9" width="23.0" height="10.9" fill="#c0c0c0" stroke="#111" stroke-width="1.4"/>
<rect x="1612.9" y="172.6" width="21.5" height="124.2" fill="#404040" stroke="#111" stroke-width="1.4"/>
<rect x="1641.0" y="251.4" width="22.9" height="45.4" fill="#c0c0c0" stroke="#111" stroke-width="1.4"/>
<rect x="1695.1" y="133.1" width="22.6" height="163.7" fill="#404040" stroke="#111" stroke-width="1.4"/>
<rect x="1722.5" y="239.0" width="24.0" height="57.8" fill="#c0c0c0" stroke="#111" stroke-width="1.4"/>
<line x1="1513.7" y1="45.7" x2="1513.7" y2="297.5" stroke="#000" stroke-width="1.4"/>
<line x1="1510.0" y1="296.8" x2="1761.5" y2="296.8" stroke="#000" stroke-width="1.4"/>
<line x1="1508.3" y1="296.8" x2="1513.7" y2="296.8" stroke="#000" stroke-width="1.3"/>
<text x="1496.1" y="304.0" font-size="21" stroke="#000" stroke-width="0.25">0</text>
<line x1="1508.3" y1="254.9" x2="1513.7" y2="254.9" stroke="#000" stroke-width="1.3"/>
<text x="1499.9" y="262.1" font-size="21" stroke="#000" stroke-width="0.25">1</text>
<line x1="1508.3" y1="213.0" x2="1513.7" y2="213.0" stroke="#000" stroke-width="1.3"/>
<text x="1496.4" y="220.3" font-size="21" stroke="#000" stroke-width="0.25">2</text>
<line x1="1508.3" y1="171.1" x2="1513.7" y2="171.1" stroke="#000" stroke-width="1.3"/>
<text x="1496.2" y="178.3" font-size="21" stroke="#000" stroke-width="0.25">3</text>
<line x1="1508.3" y1="129.2" x2="1513.7" y2="129.2" stroke="#000" stroke-width="1.3"/>
<text x="1496.0" y="136.4" font-size="21" stroke="#000" stroke-width="0.25">4</text>
<line x1="1508.3" y1="87.3" x2="1513.7" y2="87.3" stroke="#000" stroke-width="1.3"/>
<text x="1496.2" y="94.4" font-size="21" stroke="#000" stroke-width="0.25">5</text>
<line x1="1508.3" y1="45.4" x2="1513.7" y2="45.4" stroke="#000" stroke-width="1.3"/>
<text x="1496.2" y="52.6" font-size="21" stroke="#000" stroke-width="0.25">6</text>
<line x1="1510.7" y1="275.9" x2="1513.7" y2="275.9" stroke="#000" stroke-width="1.1"/>
<line x1="1510.7" y1="234.0" x2="1513.7" y2="234.0" stroke="#000" stroke-width="1.1"/>
<line x1="1510.7" y1="192.1" x2="1513.7" y2="192.1" stroke="#000" stroke-width="1.1"/>
<line x1="1510.7" y1="150.2" x2="1513.7" y2="150.2" stroke="#000" stroke-width="1.1"/>
<line x1="1510.7" y1="108.3" x2="1513.7" y2="108.3" stroke="#000" stroke-width="1.1"/>
<line x1="1510.7" y1="66.4" x2="1513.7" y2="66.4" stroke="#000" stroke-width="1.1"/>
<line x1="1554.7" y1="296.8" x2="1554.7" y2="301.3" stroke="#000" stroke-width="1.3"/>
<text x="1548.8" y="326.3" font-size="21" stroke="#000" stroke-width="0.25">0</text>
<line x1="1637.9" y1="296.8" x2="1637.9" y2="301.3" stroke="#000" stroke-width="1.3"/>
<text x="1623.3" y="326.3" font-size="21" stroke="#000" stroke-width="0.25">0.5</text>
<line x1="1720.8" y1="296.8" x2="1720.8" y2="301.3" stroke="#000" stroke-width="1.3"/>
<text x="1716.2" y="326.3" font-size="21" stroke="#000" stroke-width="0.25">1</text>
<rect x="1521.3" y="44.7" width="36.0" height="18.1" fill="#404040" stroke="#000" stroke-width="1.6" rx="1"/>
<rect x="1521.3" y="70.4" width="36.0" height="17.5" fill="#c0c0c0" stroke="#000" stroke-width="1.6" rx="1"/>
<text x="1572.2" y="61.1" font-size="21.83" stroke="#000" stroke-width="0.25">WT</text>
<text x="1572.0" y="86.2" font-size="23.44" font-style="italic" stroke="#000" stroke-width="0.25">STAU1-/-</text>
<text x="1520.8" y="357.9" font-size="27.47" stroke="#000" stroke-width="0.25">Thapsigargin (μM)</text>
<text x="1445.7" y="284.0" font-size="27.17" transform="rotate(-90 1445.7 284.0)" stroke="#000" stroke-width="0.25">cleaved caspase 3</text>
<text x="1479.2" y="208.6" font-size="27.92" transform="rotate(-90 1479.2 208.6)" stroke="#000" stroke-width="0.25">/ actin</text>
<polygon points="1621.0,135.4 1623.6,138.0 1621.0,140.6 1618.4,138.0" fill="#000" stroke="none" stroke-width="1.0" stroke-linejoin="round"/>
<polygon points="1625.0,132.9 1627.6,135.5 1625.0,138.1 1622.4,135.5" fill="#000" stroke="none" stroke-width="1.0" stroke-linejoin="round"/>
<polygon points="1705.0,76.1 1707.6,78.7 1705.0,81.3 1702.4,78.7" fill="#000" stroke="none" stroke-width="1.0" stroke-linejoin="round"/>
<polygon points="1706.0,86.9 1708.6,89.5 1706.0,92.1 1703.4,89.5" fill="#000" stroke="none" stroke-width="1.0" stroke-linejoin="round"/>
<polygon points="1623.0,243.4 1625.6,246.0 1623.0,248.6 1620.4,246.0" fill="#000" stroke="none" stroke-width="1.0" stroke-linejoin="round"/>
<polygon points="1705.0,229.9 1707.6,232.5 1705.0,235.1 1702.4,232.5" fill="#000" stroke="none" stroke-width="1.0" stroke-linejoin="round"/>
<polygon points="1650.5,230.9 1653.1,233.5 1650.5,236.1 1647.9,233.5" fill="#000" stroke="none" stroke-width="1.0" stroke-linejoin="round"/>
<polygon points="1653.0,245.9 1655.6,248.5 1653.0,251.1 1650.4,248.5" fill="#000" stroke="none" stroke-width="1.0" stroke-linejoin="round"/>
<polygon points="1652.0,270.4 1654.6,273.0 1652.0,275.6 1649.4,273.0" fill="#000" stroke="none" stroke-width="1.0" stroke-linejoin="round"/>
<polygon points="1735.0,195.4 1737.6,198.0 1735.0,200.6 1732.4,198.0" fill="#000" stroke="none" stroke-width="1.0" stroke-linejoin="round"/>
<polygon points="1735.0,246.9 1737.6,249.5 1735.0,252.1 1732.4,249.5" fill="#000" stroke="none" stroke-width="1.0" stroke-linejoin="round"/>
<polygon points="1735.0,266.9 1737.6,269.5 1735.0,272.1 1732.4,269.5" fill="#000" stroke="none" stroke-width="1.0" stroke-linejoin="round"/>
<polygon points="1567.0,275.9 1569.6,278.5 1567.0,281.1 1564.4,278.5" fill="#000" stroke="none" stroke-width="1.0" stroke-linejoin="round"/>
<polygon points="1568.0,287.9 1570.6,290.5 1568.0,293.1 1565.4,290.5" fill="#000" stroke="none" stroke-width="1.0" stroke-linejoin="round"/>
<polygon points="1572.0,288.4 1574.6,291.0 1572.0,293.6 1569.4,291.0" fill="#000" stroke="none" stroke-width="1.0" stroke-linejoin="round"/>
<polygon points="1539.0,253.1 1541.6,255.7 1539.0,258.3 1536.4,255.7" fill="#000" stroke="none" stroke-width="1.0" stroke-linejoin="round"/>
<polygon points="1541.0,253.1 1543.6,255.7 1541.0,258.3 1538.4,255.7" fill="#000" stroke="none" stroke-width="1.0" stroke-linejoin="round"/>
<polygon points="1543.0,253.1 1545.6,255.7 1543.0,258.3 1540.4,255.7" fill="#000" stroke="none" stroke-width="1.0" stroke-linejoin="round"/>
<text x="1616.5" y="134.3" font-size="17" stroke="#000" stroke-width="0.25">**</text>
<text x="1698.4" y="78.8" font-size="17" stroke="#000" stroke-width="0.25">**</text>
<text x="1563.9" y="272.9" font-size="21" stroke="#000" stroke-width="0.25">†</text>
<text x="1642.3" y="229.9" font-size="21" stroke="#000" stroke-width="0.25">††</text>
<text x="1736.3" y="215.9" font-size="21" stroke="#000" stroke-width="0.25">††</text>
<text x="46.5" y="481.3" font-size="38.61" font-weight="bold" stroke="#000" stroke-width="0.45">b</text>
<text x="285.3" y="470.5" font-size="23.49" stroke="#000" stroke-width="0.45">mouse</text>
<text x="365.1" y="470.5" font-size="23.44" stroke="#000" stroke-width="0.45">fibroblasts</text>
<text x="201.3" y="509.4" font-size="22.94" stroke="#000" stroke-width="0.45">WT</text>
<line x1="140.7" y1="517.4" x2="286.0" y2="517.4" stroke="#000" stroke-width="2.2"/>
<text x="337.8" y="509.4" font-size="23.57" font-style="italic" stroke="#000" stroke-width="0.45">Stau1</text>
<text x="398.9" y="502.8" font-size="15.84" font-style="italic" stroke="#000" stroke-width="0.45">+/-</text>
<line x1="303.3" y1="517.4" x2="448.5" y2="517.4" stroke="#000" stroke-width="2.2"/>
<text x="503.3" y="509.4" font-size="23.65" font-style="italic" stroke="#000" stroke-width="0.45">Stau1</text>
<text x="563.9" y="502.8" font-size="17.24" font-style="italic" stroke="#000" stroke-width="0.45">-/-</text>
<line x1="466.6" y1="517.4" x2="612.1" y2="517.4" stroke="#000" stroke-width="2.2"/>
<text x="156.1" y="547.6" font-size="21.88" stroke="#000" stroke-width="0.45">0</text>
<text x="321.0" y="548.1" font-size="22.08" stroke="#000" stroke-width="0.45">0</text>
<text x="484.5" y="548.1" font-size="22.08" stroke="#000" stroke-width="0.45">0</text>
<polygon points="194.3,547.0 194.3,543.2 281.7,529.4 281.7,547.0" fill="#404040" stroke="#000" stroke-width="1.4" stroke-linejoin="round"/>
<polygon points="361.4,546.0 361.4,542.2 448.5,528.9 448.5,546.0" fill="#404040" stroke="#000" stroke-width="1.4" stroke-linejoin="round"/>
<polygon points="517.1,547.4 517.1,543.6 604.6,528.9 604.6,547.4" fill="#404040" stroke="#000" stroke-width="1.4" stroke-linejoin="round"/>
<text x="630.7" y="539.5" font-size="21.43" stroke="#000" stroke-width="0.45">Thaps</text>
<text x="629.3" y="564.4" font-size="22.69" stroke="#000" stroke-width="0.45">(dose)</text>
<rect x="127.3" y="554.3" width="493.9" height="41.1" fill="#d9d9d9" stroke="none" stroke-width="1.0"/>
<rect x="127.3" y="604.5" width="493.9" height="49.2" fill="#fafafa" stroke="none" stroke-width="1.0"/>
<rect x="127.3" y="663.8" width="493.9" height="61.4" fill="#fbfbfb" stroke="none" stroke-width="1.0"/>
<rect x="127.3" y="734.3" width="493.9" height="51.5" fill="#fafafa" stroke="none" stroke-width="1.0"/>
<rect x="462" y="555" width="158" height="40" fill="#fff" fill-opacity="0.3" filter="url(#b0)"/>
<rect x="193.0" y="556.0" width="42.0" height="14.0" rx="7.0" fill="#000" fill-opacity="0.094" filter="url(#b0)"/>
<rect x="194.0" y="558.5" width="40.0" height="5.0" rx="2.5" fill="#000" fill-opacity="0.250" filter="url(#b4)"/>
<rect x="255.0" y="556.0" width="38.0" height="14.0" rx="7.0" fill="#000" fill-opacity="0.131" filter="url(#b0)"/>
<rect x="256.0" y="558.5" width="36.0" height="5.0" rx="2.5" fill="#000" fill-opacity="0.350" filter="url(#b4)"/>
<rect x="357.0" y="556.0" width="40.0" height="14.0" rx="7.0" fill="#000" fill-opacity="0.112" filter="url(#b0)"/>
<rect x="358.0" y="558.5" width="38.0" height="5.0" rx="2.5" fill="#000" fill-opacity="0.300" filter="url(#b4)"/>
<rect x="425.0" y="558.5" width="30.0" height="5.0" rx="2.5" fill="#000" fill-opacity="0.150" filter="url(#b4)"/>
<rect x="142.5" y="558.5" width="30.0" height="5.0" rx="2.5" fill="#000" fill-opacity="0.120" filter="url(#b4)"/>
<rect x="139.5" y="570.9" width="36.0" height="15.5" rx="7.8" fill="#000" fill-opacity="0.270" filter="url(#b0)"/>
<rect x="140.5" y="573.4" width="34.0" height="6.5" rx="3.2" fill="#000" fill-opacity="0.720" filter="url(#b5)"/>
<rect x="192.0" y="570.4" width="46.0" height="16.5" rx="8.2" fill="#000" fill-opacity="0.345" filter="url(#b0)"/>
<rect x="193.0" y="572.9" width="44.0" height="7.5" rx="3.8" fill="#000" fill-opacity="0.920" filter="url(#b5)"/>
<rect x="245.5" y="570.4" width="45.0" height="16.5" rx="8.2" fill="#000" fill-opacity="0.364" filter="url(#b0)"/>
<rect x="246.5" y="572.9" width="43.0" height="7.5" rx="3.8" fill="#000" fill-opacity="0.970" filter="url(#b5)"/>
<rect x="302.0" y="571.8" width="38.0" height="14.5" rx="7.2" fill="#000" fill-opacity="0.206" filter="url(#b0)"/>
<rect x="303.0" y="574.2" width="36.0" height="5.5" rx="2.8" fill="#000" fill-opacity="0.550" filter="url(#b5)"/>
<rect x="357.0" y="571.0" width="40.0" height="16.0" rx="8.0" fill="#000" fill-opacity="0.319" filter="url(#b0)"/>
<rect x="358.0" y="573.5" width="38.0" height="7.0" rx="3.5" fill="#000" fill-opacity="0.850" filter="url(#b5)"/>
<rect x="412.0" y="572.2" width="40.0" height="14.5" rx="7.2" fill="#000" fill-opacity="0.169" filter="url(#b0)"/>
<rect x="413.0" y="574.8" width="38.0" height="5.5" rx="2.8" fill="#000" fill-opacity="0.450" filter="url(#b5)"/>
<rect x="468.0" y="578.0" width="34.0" height="4.0" rx="2.0" fill="#000" fill-opacity="0.100" filter="url(#b6)"/>
<rect x="527.0" y="576.5" width="6.0" height="12.0" rx="3.0" fill="#000" fill-opacity="0.131" filter="url(#b0)"/>
<rect x="528.0" y="579.0" width="4.0" height="3.0" rx="1.5" fill="#000" fill-opacity="0.350" filter="url(#b7)"/>
<rect x="142.0" y="625.0" width="36.0" height="4.0" rx="2.0" fill="#000" fill-opacity="0.070" filter="url(#b6)"/>
<rect x="194.7" y="620.2" width="40.0" height="15.5" rx="7.8" fill="#000" fill-opacity="0.367" filter="url(#b0)"/>
<rect x="195.7" y="622.8" width="38.0" height="6.5" rx="3.2" fill="#000" fill-opacity="0.980" filter="url(#b1)"/>
<rect x="196.7" y="630.8" width="36.0" height="13.0" rx="6.5" fill="#000" fill-opacity="0.131" filter="url(#b0)"/>
<rect x="197.7" y="633.3" width="34.0" height="4.0" rx="2.0" fill="#000" fill-opacity="0.350" filter="url(#b6)"/>
<rect x="245.5" y="619.2" width="42.0" height="17.5" rx="8.8" fill="#000" fill-opacity="0.375" filter="url(#b0)"/>
<rect x="246.5" y="621.8" width="40.0" height="8.5" rx="4.2" fill="#000" fill-opacity="1.000" filter="url(#b1)"/>
<rect x="246.5" y="630.8" width="40.0" height="13.5" rx="6.8" fill="#000" fill-opacity="0.158" filter="url(#b0)"/>
<rect x="247.5" y="633.2" width="38.0" height="4.5" rx="2.2" fill="#000" fill-opacity="0.420" filter="url(#b6)"/>
<rect x="356.5" y="621.5" width="39.0" height="15.5" rx="7.8" fill="#000" fill-opacity="0.375" filter="url(#b0)"/>
<rect x="357.5" y="624.0" width="37.0" height="6.5" rx="3.2" fill="#000" fill-opacity="1.000" filter="url(#b1)"/>
<rect x="358.0" y="631.2" width="36.0" height="13.5" rx="6.8" fill="#000" fill-opacity="0.112" filter="url(#b0)"/>
<rect x="359.0" y="633.8" width="34.0" height="4.5" rx="2.2" fill="#000" fill-opacity="0.300" filter="url(#b6)"/>
<rect x="409.0" y="622.2" width="38.0" height="15.5" rx="7.8" fill="#000" fill-opacity="0.375" filter="url(#b0)"/>
<rect x="410.0" y="624.8" width="36.0" height="6.5" rx="3.2" fill="#000" fill-opacity="1.000" filter="url(#b1)"/>
<rect x="410.0" y="632.2" width="36.0" height="13.5" rx="6.8" fill="#000" fill-opacity="0.112" filter="url(#b0)"/>
<rect x="411.0" y="634.8" width="34.0" height="4.5" rx="2.2" fill="#000" fill-opacity="0.300" filter="url(#b6)"/>
<rect x="516.0" y="622.3" width="37.0" height="17.0" rx="8.5" fill="#000" fill-opacity="0.375" filter="url(#b0)" transform="rotate(4 534.5 628.8)"/>
<rect x="517.0" y="624.8" width="35.0" height="8.0" rx="4.0" fill="#000" fill-opacity="1.000" filter="url(#b2)" transform="rotate(4 534.5 628.8)"/>
<rect x="517.5" y="632.8" width="34.0" height="13.5" rx="6.8" fill="#000" fill-opacity="0.131" filter="url(#b0)"/>
<rect x="518.5" y="635.2" width="32.0" height="4.5" rx="2.2" fill="#000" fill-opacity="0.350" filter="url(#b6)"/>
<rect x="569.0" y="619.2" width="38.0" height="14.5" rx="7.2" fill="#000" fill-opacity="0.292" filter="url(#b0)" transform="rotate(-5 588.0 624.5)"/>
<rect x="570.0" y="621.8" width="36.0" height="5.5" rx="2.8" fill="#000" fill-opacity="0.780" filter="url(#b2)" transform="rotate(-5 588.0 624.5)"/>
<rect x="140.5" y="690.2" width="40.0" height="16.5" rx="8.2" fill="#000" fill-opacity="0.206" filter="url(#b0)" transform="rotate(-5 160.5 696.5)"/>
<rect x="141.5" y="692.8" width="38.0" height="7.5" rx="3.8" fill="#000" fill-opacity="0.550" filter="url(#b4)" transform="rotate(-5 160.5 696.5)"/>
<rect x="191.8" y="686.9" width="42.0" height="17.5" rx="8.8" fill="#000" fill-opacity="0.356" filter="url(#b0)"/>
<rect x="192.8" y="689.4" width="40.0" height="8.5" rx="4.2" fill="#000" fill-opacity="0.950" filter="url(#b8)"/>
<rect x="243.0" y="685.9" width="46.0" height="19.5" rx="9.8" fill="#000" fill-opacity="0.375" filter="url(#b0)"/>
<rect x="244.0" y="688.4" width="44.0" height="10.5" rx="5.2" fill="#000" fill-opacity="1.000" filter="url(#b8)"/>
<rect x="297.0" y="689.0" width="40.0" height="15.0" rx="7.5" fill="#000" fill-opacity="0.083" filter="url(#b0)"/>
<rect x="298.0" y="691.5" width="38.0" height="6.0" rx="3.0" fill="#000" fill-opacity="0.220" filter="url(#b9)"/>
<rect x="349.5" y="684.0" width="42.0" height="17.5" rx="8.8" fill="#000" fill-opacity="0.364" filter="url(#b0)"/>
<rect x="350.5" y="686.5" width="40.0" height="8.5" rx="4.2" fill="#000" fill-opacity="0.970" filter="url(#b8)"/>
<rect x="404.0" y="684.9" width="42.0" height="17.5" rx="8.8" fill="#000" fill-opacity="0.345" filter="url(#b0)"/>
<rect x="405.0" y="687.4" width="40.0" height="8.5" rx="4.2" fill="#000" fill-opacity="0.920" filter="url(#b8)"/>
<rect x="460.0" y="691.0" width="34.0" height="5.0" rx="2.5" fill="#000" fill-opacity="0.150" filter="url(#b9)"/>
<rect x="513.0" y="687.8" width="38.0" height="15.5" rx="7.8" fill="#000" fill-opacity="0.195" filter="url(#b0)"/>
<rect x="514.0" y="690.2" width="36.0" height="6.5" rx="3.2" fill="#000" fill-opacity="0.520" filter="url(#b10)"/>
<rect x="567.0" y="690.2" width="36.0" height="15.5" rx="7.8" fill="#000" fill-opacity="0.188" filter="url(#b0)" transform="rotate(12 585.0 696.0)"/>
<rect x="568.0" y="692.8" width="34.0" height="6.5" rx="3.2" fill="#000" fill-opacity="0.500" filter="url(#b11)" transform="rotate(12 585.0 696.0)"/>
<rect x="138.0" y="752.0" width="48.0" height="17.5" rx="8.8" fill="#000" fill-opacity="0.375" filter="url(#b0)"/>
<rect x="139.0" y="754.5" width="46.0" height="8.5" rx="4.2" fill="#000" fill-opacity="1.000" filter="url(#b5)"/>
<rect x="190.7" y="752.5" width="48.0" height="16.0" rx="8.0" fill="#000" fill-opacity="0.356" filter="url(#b0)"/>
<rect x="191.7" y="755.0" width="46.0" height="7.0" rx="3.5" fill="#000" fill-opacity="0.950" filter="url(#b5)"/>
<rect x="242.5" y="753.5" width="47.0" height="16.0" rx="8.0" fill="#000" fill-opacity="0.270" filter="url(#b0)"/>
<rect x="243.5" y="756.0" width="45.0" height="7.0" rx="3.5" fill="#000" fill-opacity="0.720" filter="url(#b5)"/>
<rect x="295.5" y="754.0" width="47.0" height="16.0" rx="8.0" fill="#000" fill-opacity="0.270" filter="url(#b0)"/>
<rect x="296.5" y="756.5" width="45.0" height="7.0" rx="3.5" fill="#000" fill-opacity="0.720" filter="url(#b5)"/>
<rect x="351.0" y="753.0" width="46.0" height="15.5" rx="7.8" fill="#000" fill-opacity="0.292" filter="url(#b0)"/>
<rect x="352.0" y="755.5" width="44.0" height="6.5" rx="3.2" fill="#000" fill-opacity="0.780" filter="url(#b5)"/>
<rect x="404.0" y="754.0" width="44.0" height="16.0" rx="8.0" fill="#000" fill-opacity="0.292" filter="url(#b0)"/>
<rect x="405.0" y="756.5" width="42.0" height="7.0" rx="3.5" fill="#000" fill-opacity="0.780" filter="url(#b5)"/>
<rect x="456.0" y="754.8" width="44.0" height="16.5" rx="8.2" fill="#000" fill-opacity="0.345" filter="url(#b0)"/>
<rect x="457.0" y="757.2" width="42.0" height="7.5" rx="3.8" fill="#000" fill-opacity="0.920" filter="url(#b5)"/>
<rect x="508.0" y="753.8" width="45.0" height="16.5" rx="8.2" fill="#000" fill-opacity="0.364" filter="url(#b0)"/>
<rect x="509.0" y="756.2" width="43.0" height="7.5" rx="3.8" fill="#000" fill-opacity="0.970" filter="url(#b5)"/>
<rect x="563.0" y="753.0" width="44.0" height="16.0" rx="8.0" fill="#000" fill-opacity="0.319" filter="url(#b0)"/>
<rect x="564.0" y="755.5" width="42.0" height="7.0" rx="3.5" fill="#000" fill-opacity="0.850" filter="url(#b5)"/>
<rect x="127.3" y="554.3" width="493.9" height="41.1" fill="none" stroke="#000" stroke-width="1.4"/>
<rect x="127.3" y="604.5" width="493.9" height="49.2" fill="none" stroke="#000" stroke-width="1.4"/>
<rect x="127.3" y="663.8" width="493.9" height="61.4" fill="none" stroke="#000" stroke-width="1.4"/>
<rect x="127.3" y="734.3" width="493.9" height="51.5" fill="none" stroke="#000" stroke-width="1.4"/>
<text x="41.9" y="584.4" font-size="23.27" stroke="#000" stroke-width="0.45">STAU1</text>
<text x="45.1" y="633.4" font-size="23.12" stroke="#000" stroke-width="0.45">CHOP</text>
<text x="26.9" y="690.9" font-size="23.85" stroke="#000" stroke-width="0.45">Cleaved</text>
<text x="-0.3" y="718.6" font-size="23.88" stroke="#000" stroke-width="0.45">Caspase 3</text>
<text x="62.9" y="765.8" font-size="24.24" stroke="#000" stroke-width="0.45">actin</text>
<line x1="614.8" y1="588.6" x2="629.5" y2="588.6" stroke="#000" stroke-width="1.3"/>
<text x="631.1" y="592.7" font-size="17.5" stroke="#000" stroke-width="0.45">50 kD</text>
<line x1="614.8" y1="649.3" x2="629.5" y2="649.3" stroke="#000" stroke-width="1.3"/>
<text x="630.9" y="654.5" font-size="17.5" stroke="#000" stroke-width="0.45">25</text>
<line x1="614.8" y1="674.4" x2="629.5" y2="674.4" stroke="#000" stroke-width="1.3"/>
<text x="630.9" y="680.0" font-size="17.5" stroke="#000" stroke-width="0.45">20</text>
<line x1="614.8" y1="724.6" x2="629.5" y2="724.6" stroke="#000" stroke-width="1.3"/>
<text x="630.1" y="728.5" font-size="17.5" stroke="#000" stroke-width="0.45">15</text>
<line x1="614.8" y1="743.2" x2="629.5" y2="743.2" stroke="#000" stroke-width="1.3"/>
<text x="631.1" y="747.7" font-size="17.5" stroke="#000" stroke-width="0.45">50</text>
<line x1="614.8" y1="781.2" x2="629.5" y2="781.2" stroke="#000" stroke-width="1.3"/>
<text x="631.1" y="785.7" font-size="17.5" stroke="#000" stroke-width="0.45">37</text>
<line x1="891.0" y1="478.5" x2="891.0" y2="776.7" stroke="#000" stroke-width="1.3"/>
<line x1="884.0" y1="776.0" x2="1344.4" y2="776.0" stroke="#000" stroke-width="1.3"/>
<line x1="883.6" y1="776.0" x2="891.0" y2="776.0" stroke="#000" stroke-width="1.3"/>
<text x="856.8" y="784.2" font-size="23.8">0</text>
<line x1="883.6" y1="676.8" x2="891.0" y2="676.8" stroke="#000" stroke-width="1.3"/>
<text x="843.6" y="685.0" font-size="23.8">10</text>
<line x1="883.6" y1="577.7" x2="891.0" y2="577.7" stroke="#000" stroke-width="1.3"/>
<text x="843.6" y="585.9" font-size="23.8">20</text>
<line x1="883.6" y1="478.5" x2="891.0" y2="478.5" stroke="#000" stroke-width="1.3"/>
<text x="843.6" y="486.7" font-size="23.8">30</text>
<line x1="891.0" y1="776.0" x2="891.0" y2="782.5" stroke="#000" stroke-width="1.3"/>
<text x="884.5" y="812.1" font-size="23.3">0</text>
<line x1="1024.4" y1="776.0" x2="1024.4" y2="782.5" stroke="#000" stroke-width="1.3"/>
<text x="1008.2" y="812.1" font-size="23.3">0.5</text>
<line x1="1157.9" y1="776.0" x2="1157.9" y2="782.5" stroke="#000" stroke-width="1.3"/>
<text x="1152.8" y="812.1" font-size="23.3">1</text>
<line x1="1291.3" y1="776.0" x2="1291.3" y2="782.5" stroke="#000" stroke-width="1.3"/>
<text x="1274.5" y="812.1" font-size="23.3">1.5</text>
<text x="1005.5" y="855.5" font-size="30.4">thapsigargin</text>
<text x="1176.2" y="855.5" font-size="27.08">(μM)</text>
<text x="822.8" y="719.9" font-size="29.78" transform="rotate(-90 822.8 719.9)">% cytotoxicity</text>
<line x1="904.3" y1="604.3" x2="904.3" y2="562.8" stroke="#000" stroke-width="1.2"/>
<line x1="900.3" y1="562.8" x2="908.3" y2="562.8" stroke="#000" stroke-width="1.5"/>
<line x1="904.3" y1="657.5" x2="904.3" y2="625.3" stroke="#000" stroke-width="1.2"/>
<line x1="900.3" y1="625.3" x2="908.3" y2="625.3" stroke="#000" stroke-width="1.5"/>
<line x1="917.7" y1="560.2" x2="917.7" y2="542.3" stroke="#000" stroke-width="1.2"/>
<line x1="913.7" y1="542.3" x2="921.7" y2="542.3" stroke="#000" stroke-width="1.5"/>
<line x1="917.7" y1="633.6" x2="917.7" y2="607.7" stroke="#000" stroke-width="1.2"/>
<line x1="913.7" y1="607.7" x2="921.7" y2="607.7" stroke="#000" stroke-width="1.5"/>
<line x1="944.4" y1="576.1" x2="944.4" y2="537.9" stroke="#000" stroke-width="1.2"/>
<line x1="940.4" y1="537.9" x2="948.4" y2="537.9" stroke="#000" stroke-width="1.5"/>
<line x1="944.4" y1="637.5" x2="944.4" y2="612.0" stroke="#000" stroke-width="1.2"/>
<line x1="940.4" y1="612.0" x2="948.4" y2="612.0" stroke="#000" stroke-width="1.5"/>
<line x1="997.7" y1="582.1" x2="997.7" y2="550.2" stroke="#000" stroke-width="1.2"/>
<line x1="993.7" y1="550.2" x2="1001.7" y2="550.2" stroke="#000" stroke-width="1.5"/>
<line x1="997.7" y1="649.8" x2="997.7" y2="608.7" stroke="#000" stroke-width="1.2"/>
<line x1="993.7" y1="608.7" x2="1001.7" y2="608.7" stroke="#000" stroke-width="1.5"/>
<line x1="1104.5" y1="536.3" x2="1104.5" y2="514.7" stroke="#000" stroke-width="1.2"/>
<line x1="1100.5" y1="514.7" x2="1108.5" y2="514.7" stroke="#000" stroke-width="1.5"/>
<line x1="1104.5" y1="640.9" x2="1104.5" y2="608.7" stroke="#000" stroke-width="1.2"/>
<line x1="1100.5" y1="608.7" x2="1108.5" y2="608.7" stroke="#000" stroke-width="1.5"/>
<line x1="1318.0" y1="556.9" x2="1318.0" y2="548.6" stroke="#000" stroke-width="1.2"/>
<line x1="1314.0" y1="548.6" x2="1322.0" y2="548.6" stroke="#000" stroke-width="1.5"/>
<line x1="1318.0" y1="645.2" x2="1318.0" y2="613.6" stroke="#000" stroke-width="1.2"/>
<line x1="1314.0" y1="613.6" x2="1322.0" y2="613.6" stroke="#000" stroke-width="1.5"/>
<polyline points="904.3,604.3 917.7,560.2 944.4,576.1 997.7,582.1 1104.5,536.3 1318.0,556.9" fill="none" stroke="#000" stroke-width="1.2"/>
<polyline points="904.3,657.5 917.7,633.6 944.4,637.5 997.7,649.8 1104.5,640.9 1318.0,645.2" fill="none" stroke="#000" stroke-width="2.2" stroke-dasharray="7 4"/>
<polygon points="904.3,597.8 911.6,611.6 897.1,611.6" fill="#000" stroke="none" stroke-width="1.0" stroke-linejoin="round"/>
<circle cx="904.3" cy="657.5" r="6.3" fill="#000"/>
<polygon points="917.7,553.7 924.9,567.5 910.4,567.5" fill="#000" stroke="none" stroke-width="1.0" stroke-linejoin="round"/>
<circle cx="917.7" cy="633.6" r="6.3" fill="#000"/>
<polygon points="944.4,569.6 951.6,583.4 937.1,583.4" fill="#000" stroke="none" stroke-width="1.0" stroke-linejoin="round"/>
<circle cx="944.4" cy="637.5" r="6.3" fill="#000"/>
<polygon points="997.7,575.6 1005.0,589.4 990.5,589.4" fill="#000" stroke="none" stroke-width="1.0" stroke-linejoin="round"/>
<circle cx="997.7" cy="649.8" r="6.3" fill="#000"/>
<polygon points="1104.5,529.8 1111.7,543.6 1097.2,543.6" fill="#000" stroke="none" stroke-width="1.0" stroke-linejoin="round"/>
<circle cx="1104.5" cy="640.9" r="6.3" fill="#000"/>
<polygon points="1318.0,550.4 1325.2,564.2 1310.7,564.2" fill="#000" stroke="none" stroke-width="1.0" stroke-linejoin="round"/>
<circle cx="1318.0" cy="645.2" r="6.3" fill="#000"/>
<text x="894.6" y="683.5" font-size="21">**</text>
<text x="912.9" y="660.3" font-size="21">**</text>
<text x="934.5" y="662.3" font-size="21">**</text>
<text x="990.9" y="677.3" font-size="21">**</text>
<text x="1095.5" y="668.8" font-size="21">**</text>
<text x="1308.0" y="670.3" font-size="21">**</text>
<rect x="1164.5" y="456.0" width="160.7" height="59.7" fill="#fff" stroke="#000" stroke-width="1.3"/>
<line x1="1174.4" y1="471.5" x2="1213.3" y2="471.5" stroke="#000" stroke-width="1.2"/>
<polygon points="1193.4,465.0 1200.7,478.8 1186.2,478.8" fill="#000" stroke="none" stroke-width="1.0" stroke-linejoin="round"/>
<text x="1216.5" y="478.2" font-size="21.83">WT</text>
<line x1="1174.4" y1="501.4" x2="1213.3" y2="501.4" stroke="#000" stroke-width="2.2" stroke-dasharray="7 4"/>
<circle cx="1193.4" cy="501.4" r="6.3" fill="#000"/>
<text x="1217.5" y="507.4" font-size="24.26" font-style="italic">STAU1-/-</text>
<text x="1649.8" y="424.1" font-size="22.93" stroke="#000" stroke-width="0.45">HEK293T</text>
<text x="1760.5" y="424.1" font-size="23.43" stroke="#000" stroke-width="0.45">cells</text>
<text x="1450.3" y="482.4" font-size="37.43" font-weight="bold" stroke="#000" stroke-width="0.45">d</text>
<text x="1606.9" y="461.9" font-size="23.97" stroke="#000" stroke-width="0.45">siControl</text>
<line x1="1589.2" y1="468.7" x2="1720.1" y2="468.7" stroke="#000" stroke-width="2.2"/>
<text x="1751.3" y="461.9" font-size="23.83" stroke="#000" stroke-width="0.45">siSTAU1</text>
<line x1="1732.5" y1="468.7" x2="1863.5" y2="468.7" stroke="#000" stroke-width="2.2"/>
<text x="1599.9" y="495.4" font-size="22.5" stroke="#000" stroke-width="0.45">0</text>
<text x="1742.4" y="495.4" font-size="22.29" stroke="#000" stroke-width="0.45">0</text>
<polygon points="1634.0,494.9 1634.0,490.5 1717.7,479.5 1717.7,494.9" fill="#404040" stroke="#000" stroke-width="1.4" stroke-linejoin="round"/>
<polygon points="1776.3,494.9 1776.3,490.5 1858.6,479.5 1858.6,494.9" fill="#404040" stroke="#000" stroke-width="1.4" stroke-linejoin="round"/>
<text x="1883.3" y="490.0" font-size="20.99" stroke="#000" stroke-width="0.45">Thaps</text>
<text x="1880.6" y="513.8" font-size="22.88" stroke="#000" stroke-width="0.45">(dose)</text>
<rect x="1565.0" y="501.6" width="312.0" height="50.8" fill="#fafafa" stroke="none" stroke-width="1.0"/>
<rect x="1565.0" y="558.3" width="312.0" height="52.6" fill="#fafafa" stroke="none" stroke-width="1.0"/>
<rect x="1565.0" y="618.9" width="312.0" height="47.8" fill="#fafafa" stroke="none" stroke-width="1.0"/>
<rect x="1565.0" y="672.9" width="312.0" height="46.4" fill="#fafafa" stroke="none" stroke-width="1.0"/>
<rect x="1565.0" y="727.9" width="312.0" height="45.9" fill="#fafafa" stroke="none" stroke-width="1.0"/>
<rect x="1565.0" y="782.7" width="312.0" height="47.3" fill="#fafafa" stroke="none" stroke-width="1.0"/>
<rect x="1565.0" y="838.9" width="312.0" height="47.8" fill="#fafafa" stroke="none" stroke-width="1.0"/>
<rect x="1580.0" y="521.5" width="42.0" height="15.5" rx="7.8" fill="#000" fill-opacity="0.220" filter="url(#b0)"/>
<rect x="1581.0" y="524.0" width="40.0" height="6.5" rx="3.2" fill="#000" fill-opacity="0.880" filter="url(#b5)"/>
<rect x="1584.0" y="507.5" width="34.0" height="3.0" rx="1.5" fill="#000" fill-opacity="0.060" filter="url(#b12)"/>
<rect x="1584.0" y="548.5" width="34.0" height="3.0" rx="1.5" fill="#000" fill-opacity="0.100" filter="url(#b4)"/>
<rect x="1629.0" y="519.8" width="42.0" height="19.0" rx="9.5" fill="#000" fill-opacity="0.250" filter="url(#b0)"/>
<rect x="1630.0" y="522.3" width="40.0" height="10.0" rx="5.0" fill="#000" fill-opacity="1.000" filter="url(#b5)"/>
<rect x="1633.0" y="507.5" width="34.0" height="3.0" rx="1.5" fill="#000" fill-opacity="0.060" filter="url(#b12)"/>
<rect x="1633.0" y="548.5" width="34.0" height="3.0" rx="1.5" fill="#000" fill-opacity="0.100" filter="url(#b4)"/>
<rect x="1677.0" y="520.8" width="40.0" height="17.0" rx="8.5" fill="#000" fill-opacity="0.233" filter="url(#b0)"/>
<rect x="1678.0" y="523.3" width="38.0" height="8.0" rx="4.0" fill="#000" fill-opacity="0.930" filter="url(#b5)"/>
<rect x="1681.0" y="507.5" width="32.0" height="3.0" rx="1.5" fill="#000" fill-opacity="0.060" filter="url(#b12)"/>
<rect x="1681.0" y="548.5" width="32.0" height="3.0" rx="1.5" fill="#000" fill-opacity="0.100" filter="url(#b4)"/>
<rect x="1726.0" y="521.5" width="40.0" height="15.5" rx="7.8" fill="#000" fill-opacity="0.195" filter="url(#b0)"/>
<rect x="1727.0" y="524.0" width="38.0" height="6.5" rx="3.2" fill="#000" fill-opacity="0.780" filter="url(#b5)"/>
<rect x="1730.0" y="507.5" width="32.0" height="3.0" rx="1.5" fill="#000" fill-opacity="0.060" filter="url(#b12)"/>
<rect x="1730.0" y="548.5" width="32.0" height="3.0" rx="1.5" fill="#000" fill-opacity="0.100" filter="url(#b4)"/>
<rect x="1773.5" y="522.0" width="38.0" height="14.5" rx="7.2" fill="#000" fill-opacity="0.125" filter="url(#b0)"/>
<rect x="1774.5" y="524.5" width="36.0" height="5.5" rx="2.8" fill="#000" fill-opacity="0.500" filter="url(#b5)"/>
<rect x="1777.5" y="507.5" width="30.0" height="3.0" rx="1.5" fill="#000" fill-opacity="0.060" filter="url(#b12)"/>
<rect x="1777.5" y="548.5" width="30.0" height="3.0" rx="1.5" fill="#000" fill-opacity="0.100" filter="url(#b4)"/>
<rect x="1823.0" y="522.5" width="36.0" height="13.5" rx="6.8" fill="#000" fill-opacity="0.075" filter="url(#b0)"/>
<rect x="1824.0" y="525.0" width="34.0" height="4.5" rx="2.2" fill="#000" fill-opacity="0.300" filter="url(#b5)"/>
<rect x="1827.0" y="507.5" width="28.0" height="3.0" rx="1.5" fill="#000" fill-opacity="0.060" filter="url(#b12)"/>
<rect x="1827.0" y="548.5" width="28.0" height="3.0" rx="1.5" fill="#000" fill-opacity="0.100" filter="url(#b4)"/>
<rect x="1582.0" y="578.7" width="38.0" height="5.0" rx="2.5" fill="#000" fill-opacity="0.060" filter="url(#b1)"/>
<rect x="1582.0" y="587.5" width="38.0" height="5.0" rx="2.5" fill="#000" fill-opacity="0.060" filter="url(#b1)"/>
<rect x="1630.0" y="576.2" width="40.0" height="14.0" rx="7.0" fill="#000" fill-opacity="0.250" filter="url(#b0)"/>
<rect x="1631.0" y="578.7" width="38.0" height="5.0" rx="2.5" fill="#000" fill-opacity="1.000" filter="url(#b1)"/>
<rect x="1630.0" y="585.0" width="40.0" height="14.0" rx="7.0" fill="#000" fill-opacity="0.250" filter="url(#b0)"/>
<rect x="1631.0" y="587.5" width="38.0" height="5.0" rx="2.5" fill="#000" fill-opacity="1.000" filter="url(#b1)"/>
<rect x="1677.0" y="576.2" width="40.0" height="14.0" rx="7.0" fill="#000" fill-opacity="0.250" filter="url(#b0)"/>
<rect x="1678.0" y="578.7" width="38.0" height="5.0" rx="2.5" fill="#000" fill-opacity="1.000" filter="url(#b1)"/>
<rect x="1677.0" y="585.0" width="40.0" height="14.0" rx="7.0" fill="#000" fill-opacity="0.250" filter="url(#b0)"/>
<rect x="1678.0" y="587.5" width="38.0" height="5.0" rx="2.5" fill="#000" fill-opacity="1.000" filter="url(#b1)"/>
<rect x="1727.0" y="578.7" width="38.0" height="5.0" rx="2.5" fill="#000" fill-opacity="0.060" filter="url(#b1)"/>
<rect x="1727.0" y="587.5" width="38.0" height="5.0" rx="2.5" fill="#000" fill-opacity="0.060" filter="url(#b1)"/>
<rect x="1772.5" y="576.2" width="40.0" height="14.0" rx="7.0" fill="#000" fill-opacity="0.212" filter="url(#b0)"/>
<rect x="1773.5" y="578.7" width="38.0" height="5.0" rx="2.5" fill="#000" fill-opacity="0.850" filter="url(#b1)"/>
<rect x="1772.5" y="585.0" width="40.0" height="14.0" rx="7.0" fill="#000" fill-opacity="0.188" filter="url(#b0)"/>
<rect x="1773.5" y="587.5" width="38.0" height="5.0" rx="2.5" fill="#000" fill-opacity="0.750" filter="url(#b1)"/>
<rect x="1821.0" y="576.2" width="40.0" height="14.0" rx="7.0" fill="#000" fill-opacity="0.212" filter="url(#b0)"/>
<rect x="1822.0" y="578.7" width="38.0" height="5.0" rx="2.5" fill="#000" fill-opacity="0.850" filter="url(#b1)"/>
<rect x="1821.0" y="585.0" width="40.0" height="14.0" rx="7.0" fill="#000" fill-opacity="0.195" filter="url(#b0)"/>
<rect x="1822.0" y="587.5" width="38.0" height="5.0" rx="2.5" fill="#000" fill-opacity="0.780" filter="url(#b1)"/>
<rect x="1582.0" y="640.4" width="38.0" height="13.5" rx="6.8" fill="#000" fill-opacity="0.155" filter="url(#b0)"/>
<rect x="1583.0" y="642.9" width="36.0" height="4.5" rx="2.2" fill="#000" fill-opacity="0.620" filter="url(#b2)"/>
<rect x="1629.0" y="638.6" width="42.0" height="17.0" rx="8.5" fill="#000" fill-opacity="0.250" filter="url(#b0)"/>
<rect x="1630.0" y="641.1" width="40.0" height="8.0" rx="4.0" fill="#000" fill-opacity="1.000" filter="url(#b2)"/>
<rect x="1675.0" y="639.6" width="44.0" height="15.0" rx="7.5" fill="#000" fill-opacity="0.237" filter="url(#b0)"/>
<rect x="1676.0" y="642.1" width="42.0" height="6.0" rx="3.0" fill="#000" fill-opacity="0.950" filter="url(#b2)"/>
<rect x="1727.0" y="640.6" width="38.0" height="13.0" rx="6.5" fill="#000" fill-opacity="0.125" filter="url(#b0)"/>
<rect x="1728.0" y="643.1" width="36.0" height="4.0" rx="2.0" fill="#000" fill-opacity="0.500" filter="url(#b2)"/>
<rect x="1773.5" y="640.4" width="38.0" height="13.5" rx="6.8" fill="#000" fill-opacity="0.150" filter="url(#b0)"/>
<rect x="1774.5" y="642.9" width="36.0" height="4.5" rx="2.2" fill="#000" fill-opacity="0.600" filter="url(#b2)"/>
<rect x="1820.0" y="639.9" width="42.0" height="14.5" rx="7.2" fill="#000" fill-opacity="0.205" filter="url(#b0)"/>
<rect x="1821.0" y="642.4" width="40.0" height="5.5" rx="2.8" fill="#000" fill-opacity="0.820" filter="url(#b2)"/>
<rect x="1583.0" y="691.9" width="36.0" height="14.0" rx="7.0" fill="#000" fill-opacity="0.163" filter="url(#b0)"/>
<rect x="1584.0" y="694.4" width="34.0" height="5.0" rx="2.5" fill="#000" fill-opacity="0.650" filter="url(#b2)"/>
<rect x="1631.0" y="689.9" width="38.0" height="18.0" rx="9.0" fill="#000" fill-opacity="0.250" filter="url(#b0)"/>
<rect x="1632.0" y="692.4" width="36.0" height="9.0" rx="4.5" fill="#000" fill-opacity="1.000" filter="url(#b2)"/>
<rect x="1679.0" y="691.1" width="36.0" height="15.5" rx="7.8" fill="#000" fill-opacity="0.237" filter="url(#b0)"/>
<rect x="1680.0" y="693.6" width="34.0" height="6.5" rx="3.2" fill="#000" fill-opacity="0.950" filter="url(#b2)"/>
<rect x="1729.0" y="692.1" width="34.0" height="13.5" rx="6.8" fill="#000" fill-opacity="0.075" filter="url(#b0)"/>
<rect x="1730.0" y="694.6" width="32.0" height="4.5" rx="2.2" fill="#000" fill-opacity="0.300" filter="url(#b2)"/>
<rect x="1774.5" y="691.9" width="36.0" height="15.0" rx="7.5" fill="#000" fill-opacity="0.175" filter="url(#b0)"/>
<rect x="1775.5" y="694.4" width="34.0" height="6.0" rx="3.0" fill="#000" fill-opacity="0.700" filter="url(#b2)"/>
<rect x="1823.0" y="693.2" width="36.0" height="15.0" rx="7.5" fill="#000" fill-opacity="0.155" filter="url(#b0)"/>
<rect x="1824.0" y="695.7" width="34.0" height="6.0" rx="3.0" fill="#000" fill-opacity="0.620" filter="url(#b2)"/>
<rect x="1581.0" y="746.5" width="40.0" height="14.5" rx="7.2" fill="#000" fill-opacity="0.205" filter="url(#b0)"/>
<rect x="1582.0" y="749.0" width="38.0" height="5.5" rx="2.8" fill="#000" fill-opacity="0.820" filter="url(#b2)"/>
<rect x="1628.0" y="745.7" width="44.0" height="16.0" rx="8.0" fill="#000" fill-opacity="0.250" filter="url(#b0)"/>
<rect x="1629.0" y="748.2" width="42.0" height="7.0" rx="3.5" fill="#000" fill-opacity="1.000" filter="url(#b2)"/>
<rect x="1677.0" y="746.2" width="40.0" height="15.0" rx="7.5" fill="#000" fill-opacity="0.237" filter="url(#b0)"/>
<rect x="1678.0" y="748.7" width="38.0" height="6.0" rx="3.0" fill="#000" fill-opacity="0.950" filter="url(#b2)"/>
<rect x="1725.0" y="744.7" width="42.0" height="18.0" rx="9.0" fill="#000" fill-opacity="0.250" filter="url(#b0)"/>
<rect x="1726.0" y="747.2" width="40.0" height="9.0" rx="4.5" fill="#000" fill-opacity="1.000" filter="url(#b2)"/>
<rect x="1772.5" y="746.2" width="40.0" height="15.0" rx="7.5" fill="#000" fill-opacity="0.237" filter="url(#b0)"/>
<rect x="1773.5" y="748.7" width="38.0" height="6.0" rx="3.0" fill="#000" fill-opacity="0.950" filter="url(#b2)"/>
<rect x="1822.0" y="746.7" width="38.0" height="14.0" rx="7.0" fill="#000" fill-opacity="0.163" filter="url(#b0)"/>
<rect x="1823.0" y="749.2" width="36.0" height="5.0" rx="2.5" fill="#000" fill-opacity="0.650" filter="url(#b2)"/>
<rect x="1580.0" y="805.2" width="40.0" height="13.5" rx="6.8" fill="#000" fill-opacity="0.113" filter="url(#b0)" transform="rotate(-12 1600.0 810.0)"/>
<rect x="1581.0" y="807.8" width="38.0" height="4.5" rx="2.2" fill="#000" fill-opacity="0.450" filter="url(#b6)" transform="rotate(-12 1600.0 810.0)"/>
<rect x="1630.0" y="797.4" width="40.0" height="19.0" rx="9.5" fill="#000" fill-opacity="0.250" filter="url(#b0)"/>
<rect x="1631.0" y="799.9" width="38.0" height="10.0" rx="5.0" fill="#000" fill-opacity="1.000" filter="url(#b2)"/>
<rect x="1678.0" y="798.9" width="38.0" height="16.0" rx="8.0" fill="#000" fill-opacity="0.250" filter="url(#b0)"/>
<rect x="1679.0" y="801.4" width="36.0" height="7.0" rx="3.5" fill="#000" fill-opacity="1.000" filter="url(#b2)"/>
<rect x="1728.0" y="800.6" width="36.0" height="12.5" rx="6.2" fill="#000" fill-opacity="0.050" filter="url(#b0)"/>
<rect x="1729.0" y="803.1" width="34.0" height="3.5" rx="1.8" fill="#000" fill-opacity="0.200" filter="url(#b2)"/>
<rect x="1773.5" y="799.9" width="38.0" height="14.0" rx="7.0" fill="#000" fill-opacity="0.205" filter="url(#b0)"/>
<rect x="1774.5" y="802.4" width="36.0" height="5.0" rx="2.5" fill="#000" fill-opacity="0.820" filter="url(#b2)"/>
<rect x="1823.0" y="799.9" width="36.0" height="14.0" rx="7.0" fill="#000" fill-opacity="0.195" filter="url(#b0)"/>
<rect x="1824.0" y="802.4" width="34.0" height="5.0" rx="2.5" fill="#000" fill-opacity="0.780" filter="url(#b2)"/>
<rect x="1635.0" y="823.5" width="30.0" height="3.0" rx="1.5" fill="#000" fill-opacity="0.060" filter="url(#b2)"/>
<rect x="1682.0" y="823.5" width="30.0" height="3.0" rx="1.5" fill="#000" fill-opacity="0.060" filter="url(#b2)"/>
<rect x="1777.5" y="823.5" width="30.0" height="3.0" rx="1.5" fill="#000" fill-opacity="0.060" filter="url(#b2)"/>
<rect x="1826.0" y="823.5" width="30.0" height="3.0" rx="1.5" fill="#000" fill-opacity="0.060" filter="url(#b2)"/>
<rect x="1581.0" y="857.4" width="40.0" height="14.0" rx="7.0" fill="#000" fill-opacity="0.212" filter="url(#b0)"/>
<rect x="1582.0" y="859.9" width="38.0" height="5.0" rx="2.5" fill="#000" fill-opacity="0.850" filter="url(#b2)"/>
<rect x="1630.0" y="857.4" width="40.0" height="14.0" rx="7.0" fill="#000" fill-opacity="0.212" filter="url(#b0)"/>
<rect x="1631.0" y="859.9" width="38.0" height="5.0" rx="2.5" fill="#000" fill-opacity="0.850" filter="url(#b2)"/>
<rect x="1677.0" y="857.1" width="40.0" height="14.5" rx="7.2" fill="#000" fill-opacity="0.225" filter="url(#b0)"/>
<rect x="1678.0" y="859.6" width="38.0" height="5.5" rx="2.8" fill="#000" fill-opacity="0.900" filter="url(#b2)"/>
<rect x="1726.0" y="857.1" width="40.0" height="14.5" rx="7.2" fill="#000" fill-opacity="0.225" filter="url(#b0)"/>
<rect x="1727.0" y="859.6" width="38.0" height="5.5" rx="2.8" fill="#000" fill-opacity="0.900" filter="url(#b2)"/>
<rect x="1771.5" y="856.4" width="42.0" height="16.0" rx="8.0" fill="#000" fill-opacity="0.250" filter="url(#b0)"/>
<rect x="1772.5" y="858.9" width="40.0" height="7.0" rx="3.5" fill="#000" fill-opacity="1.000" filter="url(#b2)"/>
<rect x="1820.0" y="855.9" width="42.0" height="17.0" rx="8.5" fill="#000" fill-opacity="0.250" filter="url(#b0)"/>
<rect x="1821.0" y="858.4" width="40.0" height="8.0" rx="4.0" fill="#000" fill-opacity="1.000" filter="url(#b2)"/>
<rect x="1565.0" y="501.6" width="312.0" height="50.8" fill="none" stroke="#000" stroke-width="1.4"/>
<rect x="1565.0" y="558.3" width="312.0" height="52.6" fill="none" stroke="#000" stroke-width="1.4"/>
<rect x="1565.0" y="618.9" width="312.0" height="47.8" fill="none" stroke="#000" stroke-width="1.4"/>
<rect x="1565.0" y="672.9" width="312.0" height="46.4" fill="none" stroke="#000" stroke-width="1.4"/>
<rect x="1565.0" y="727.9" width="312.0" height="45.9" fill="none" stroke="#000" stroke-width="1.4"/>
<rect x="1565.0" y="782.7" width="312.0" height="47.3" fill="none" stroke="#000" stroke-width="1.4"/>
<rect x="1565.0" y="838.9" width="312.0" height="47.8" fill="none" stroke="#000" stroke-width="1.4"/>
<text x="1487.7" y="534.0" font-size="23.37" stroke="#000" stroke-width="0.45">STAU1</text>
<text x="1518.5" y="592.0" font-size="24.28" stroke="#000" stroke-width="0.45">BiP</text>
<text x="1465.3" y="650.5" font-size="24.35" stroke="#000" stroke-width="0.45">P-eIF2α</text>
<text x="1486.8" y="703.9" font-size="23.09" stroke="#000" stroke-width="0.45">CHOP</text>
<text x="1440.4" y="759.8" font-size="24.05" stroke="#000" stroke-width="0.45">Caspase 3</text>
<text x="1466.0" y="801.6" font-size="23.94" stroke="#000" stroke-width="0.45">Cleaved</text>
<text x="1443.8" y="828.6" font-size="24.11" stroke="#000" stroke-width="0.45">caspase 3</text>
<text x="1502.7" y="869.6" font-size="24.24" stroke="#000" stroke-width="0.45">actin</text>
<line x1="1870.7" y1="540.7" x2="1883.7" y2="540.7" stroke="#000" stroke-width="1.3"/>
<text x="1887.3" y="546.1" font-size="18.5" stroke="#000" stroke-width="0.45">50kD</text>
<line x1="1870.7" y1="586.1" x2="1883.7" y2="586.1" stroke="#000" stroke-width="1.3"/>
<text x="1887.1" y="592.0" font-size="18.5" stroke="#000" stroke-width="0.45">75</text>
<line x1="1870.7" y1="644.5" x2="1883.7" y2="644.5" stroke="#000" stroke-width="1.3"/>
<text x="1887.3" y="650.5" font-size="18.5" stroke="#000" stroke-width="0.45">37</text>
<line x1="1870.7" y1="708.5" x2="1883.7" y2="708.5" stroke="#000" stroke-width="1.3"/>
<text x="1887.1" y="713.9" font-size="18.5" stroke="#000" stroke-width="0.45">25</text>
<line x1="1870.7" y1="744.1" x2="1883.7" y2="744.1" stroke="#000" stroke-width="1.3"/>
<text x="1887.3" y="749.8" font-size="18.5" stroke="#000" stroke-width="0.45">37</text>
<line x1="1870.7" y1="787.6" x2="1883.7" y2="787.6" stroke="#000" stroke-width="1.3"/>
<text x="1887.1" y="793.5" font-size="18.5" stroke="#000" stroke-width="0.45">20</text>
<line x1="1870.7" y1="830.0" x2="1883.7" y2="830.0" stroke="#000" stroke-width="1.3"/>
<text x="1886.2" y="834.6" font-size="18.5" stroke="#000" stroke-width="0.45">15</text>
<line x1="1870.7" y1="847.0" x2="1883.7" y2="847.0" stroke="#000" stroke-width="1.3"/>
<text x="1887.3" y="854.3" font-size="18.5" stroke="#000" stroke-width="0.45">50</text>
<line x1="1870.7" y1="883.1" x2="1883.7" y2="883.1" stroke="#000" stroke-width="1.3"/>
<text x="1887.3" y="888.0" font-size="18.5" stroke="#000" stroke-width="0.45">37</text>
<text x="259.2" y="944.0" font-size="36.25" font-weight="bold">e</text>
<rect x="435.4" y="924.3" width="12.5" height="12.3" fill="#000" stroke="none" stroke-width="1.0"/>
<text x="453.4" y="937.5" font-size="22.8" letter-spacing="0.44">siControl</text>
<rect x="435.0" y="964.0" width="12.2" height="11.4" fill="#a8a8a8" stroke="#222" stroke-width="1.3"/>
<text x="453.4" y="976.7" font-size="22.8" letter-spacing="1.07">siSTAU1</text>
<line x1="407.7" y1="1014.4" x2="569.4" y2="1014.4" stroke="#d9d9d9" stroke-width="1.2"/>
<line x1="407.7" y1="1128.1" x2="569.4" y2="1128.1" stroke="#d9d9d9" stroke-width="1.2"/>
<rect x="424.5" y="1014.4" width="24.4" height="227.2" fill="#000" stroke="none" stroke-width="1.0"/>
<rect x="505.3" y="1014.4" width="23.8" height="227.2" fill="#000" stroke="none" stroke-width="1.0"/>
<rect x="448.9" y="1089.7" width="24.4" height="151.9" fill="#a6a6a6" stroke="#222" stroke-width="1.1"/>
<rect x="529.1" y="1095.2" width="24.4" height="146.4" fill="#a6a6a6" stroke="#222" stroke-width="1.1"/>
<line x1="461.1" y1="1076.0" x2="461.1" y2="1101.9" stroke="#000" stroke-width="1.1"/>
<line x1="457.1" y1="1076.0" x2="465.1" y2="1076.0" stroke="#000" stroke-width="1.1"/>
<line x1="457.1" y1="1101.9" x2="465.1" y2="1101.9" stroke="#000" stroke-width="1.1"/>
<line x1="541.3" y1="1082.0" x2="541.3" y2="1108.9" stroke="#000" stroke-width="1.1"/>
<line x1="537.3" y1="1082.0" x2="545.3" y2="1082.0" stroke="#000" stroke-width="1.1"/>
<line x1="537.3" y1="1108.9" x2="545.3" y2="1108.9" stroke="#000" stroke-width="1.1"/>
<text x="458.4" y="1075.7" font-size="14">*</text>
<text x="539.2" y="1080.7" font-size="14">*</text>
<line x1="407.7" y1="990.0" x2="407.7" y2="1241.6" stroke="#000" stroke-width="1.3"/>
<line x1="407.7" y1="1241.6" x2="569.4" y2="1241.6" stroke="#000" stroke-width="1.3"/>
<text x="353.5" y="1020.7" font-size="25.4">1.0</text>
<text x="354.9" y="1134.4" font-size="24.43">0.5</text>
<text x="354.9" y="1247.9" font-size="24.33">0.0</text>
<text x="414.1" y="1276.6" font-size="23.75" font-style="italic">CHOP</text>
<text x="502.0" y="1276.6" font-size="24.28" font-style="italic">ATF4</text>
<text x="326.5" y="1213.4" font-size="22.19" transform="rotate(-90 326.5 1213.4)">mRNA</text>
<text x="326.5" y="1139.5" font-size="24.16" transform="rotate(-90 326.5 1139.5)">relative levels</text>
<text x="713.1" y="942.7" font-size="38.12" font-weight="bold">f</text>
<line x1="857.4" y1="1197.4" x2="857.4" y2="1192.0" stroke="#000" stroke-width="1.0"/>
<line x1="853.4" y1="1192.0" x2="861.4" y2="1192.0" stroke="#000" stroke-width="1.3"/>
<line x1="887.0" y1="1179.1" x2="887.0" y2="1176.0" stroke="#000" stroke-width="1.0"/>
<line x1="883.0" y1="1176.0" x2="891.0" y2="1176.0" stroke="#000" stroke-width="1.3"/>
<line x1="931.2" y1="1038.8" x2="931.2" y2="1014.4" stroke="#000" stroke-width="1.0"/>
<line x1="927.2" y1="1014.4" x2="935.2" y2="1014.4" stroke="#000" stroke-width="1.3"/>
<line x1="931.2" y1="1086.7" x2="931.2" y2="1059.2" stroke="#000" stroke-width="1.0"/>
<line x1="927.2" y1="1059.2" x2="935.2" y2="1059.2" stroke="#000" stroke-width="1.3"/>
<line x1="1019.7" y1="1011.3" x2="1019.7" y2="967.1" stroke="#000" stroke-width="1.0"/>
<line x1="1015.7" y1="967.1" x2="1023.7" y2="967.1" stroke="#000" stroke-width="1.3"/>
<line x1="1196.6" y1="1146.5" x2="1196.6" y2="1143.0" stroke="#000" stroke-width="1.0"/>
<line x1="1192.6" y1="1143.0" x2="1200.6" y2="1143.0" stroke="#000" stroke-width="1.3"/>
<line x1="842.8" y1="966.5" x2="842.8" y2="1221.0" stroke="#000" stroke-width="1.3"/>
<line x1="835.8" y1="1220.3" x2="1200.3" y2="1220.3" stroke="#000" stroke-width="1.3"/>
<line x1="837.3" y1="1220.3" x2="842.8" y2="1220.3" stroke="#000" stroke-width="1.3"/>
<text x="814.3" y="1227.4" font-size="20.5">0</text>
<line x1="837.3" y1="1179.4" x2="842.8" y2="1179.4" stroke="#000" stroke-width="1.3"/>
<text x="814.6" y="1186.5" font-size="20.5">2</text>
<line x1="837.3" y1="1138.4" x2="842.8" y2="1138.4" stroke="#000" stroke-width="1.3"/>
<text x="814.2" y="1145.5" font-size="20.5">4</text>
<line x1="837.3" y1="1097.5" x2="842.8" y2="1097.5" stroke="#000" stroke-width="1.3"/>
<text x="814.4" y="1104.6" font-size="20.5">6</text>
<line x1="837.3" y1="1056.6" x2="842.8" y2="1056.6" stroke="#000" stroke-width="1.3"/>
<text x="814.4" y="1063.6" font-size="20.5">8</text>
<line x1="837.3" y1="1015.6" x2="842.8" y2="1015.6" stroke="#000" stroke-width="1.3"/>
<text x="803.0" y="1022.7" font-size="20.5">10</text>
<line x1="837.3" y1="974.7" x2="842.8" y2="974.7" stroke="#000" stroke-width="1.3"/>
<text x="803.3" y="981.9" font-size="20.5">12</text>
<line x1="842.8" y1="1220.3" x2="842.8" y2="1225.3" stroke="#000" stroke-width="1.3"/>
<text x="837.1" y="1252.4" font-size="20.5">0</text>
<line x1="931.2" y1="1220.3" x2="931.2" y2="1225.3" stroke="#000" stroke-width="1.3"/>
<text x="925.6" y="1252.4" font-size="20.5">2</text>
<line x1="1019.7" y1="1220.3" x2="1019.7" y2="1225.3" stroke="#000" stroke-width="1.3"/>
<text x="1014.1" y="1252.4" font-size="20.5">4</text>
<line x1="1108.1" y1="1220.3" x2="1108.1" y2="1225.3" stroke="#000" stroke-width="1.3"/>
<text x="1102.4" y="1252.4" font-size="20.5">6</text>
<line x1="1196.6" y1="1220.3" x2="1196.6" y2="1225.3" stroke="#000" stroke-width="1.3"/>
<text x="1190.9" y="1252.4" font-size="20.5">8</text>
<text x="902.5" y="1289.0" font-size="20.9">Thapsigargin (hrs)</text>
<polyline points="842.8,1200.5 857.4,1197.4 887.0,1179.1 931.2,1038.8 1019.7,1011.3 1196.6,1146.5" fill="none" stroke="#000" stroke-width="1.6"/>
<polyline points="842.8,1206.6 857.4,1203.5 887.0,1186.8 931.2,1086.7 1019.7,1095.2 1196.6,1156.3" fill="none" stroke="#000" stroke-width="2.7" stroke-dasharray="16 7.5"/>
<polygon points="842.8,1194.0 850.0,1207.8 835.5,1207.8" fill="#000" stroke="none" stroke-width="1.0" stroke-linejoin="round"/>
<circle cx="842.8" cy="1206.6" r="7.2" fill="#000"/>
<polygon points="857.4,1190.9 864.6,1204.7 850.1,1204.7" fill="#000" stroke="none" stroke-width="1.0" stroke-linejoin="round"/>
<circle cx="857.4" cy="1203.5" r="7.2" fill="#000"/>
<polygon points="887.0,1172.6 894.3,1186.4 879.8,1186.4" fill="#000" stroke="none" stroke-width="1.0" stroke-linejoin="round"/>
<circle cx="887.0" cy="1186.8" r="7.2" fill="#000"/>
<polygon points="931.2,1032.3 938.5,1046.1 924.0,1046.1" fill="#000" stroke="none" stroke-width="1.0" stroke-linejoin="round"/>
<circle cx="931.2" cy="1086.7" r="7.2" fill="#000"/>
<polygon points="1019.7,1004.8 1026.9,1018.6 1012.4,1018.6" fill="#000" stroke="none" stroke-width="1.0" stroke-linejoin="round"/>
<circle cx="1019.7" cy="1095.2" r="7.2" fill="#000"/>
<polygon points="1196.6,1140.0 1203.8,1153.8 1189.3,1153.8" fill="#000" stroke="none" stroke-width="1.0" stroke-linejoin="round"/>
<circle cx="1196.6" cy="1156.3" r="7.2" fill="#000"/>
<text x="934.1" y="1083.4" font-size="20" font-weight="bold">*</text>
<text x="1011.0" y="1087.9" font-size="20" font-weight="bold">**</text>
<line x1="1059.4" y1="961.0" x2="1096.6" y2="961.0" stroke="#000" stroke-width="1.5"/>
<polygon points="1078.3,956.4 1084.5,968.3 1072.0,968.3" fill="#000" stroke="none" stroke-width="1.0" stroke-linejoin="round"/>
<text x="1099.6" y="967.7" font-size="21.64">siControl</text>
<line x1="1059.4" y1="997.6" x2="1096.6" y2="997.6" stroke="#000" stroke-width="2.4"/>
<circle cx="1078.3" cy="997.6" r="6.8" fill="#000"/>
<text x="1099.5" y="1003.7" font-size="22.15">siSTAU1</text>
<text x="754.0" y="1134.5" font-size="19.61" font-style="italic" transform="rotate(-90 754.0 1134.5)">CHOP</text>
<text x="754.0" y="1076.5" font-size="23.72" transform="rotate(-90 754.0 1076.5)">mRNA</text>
<text x="776.0" y="1126.0" font-size="20.88" transform="rotate(-90 776.0 1126.0)">fold change</text>
<line x1="1395.7" y1="1157.8" x2="1395.7" y2="1145.6" stroke="#000" stroke-width="1.0"/>
<line x1="1391.7" y1="1145.6" x2="1399.7" y2="1145.6" stroke="#000" stroke-width="1.3"/>
<line x1="1395.7" y1="1180.0" x2="1395.7" y2="1172.0" stroke="#000" stroke-width="1.0"/>
<line x1="1391.7" y1="1172.0" x2="1399.7" y2="1172.0" stroke="#000" stroke-width="1.3"/>
<line x1="1467.3" y1="1083.0" x2="1467.3" y2="1068.4" stroke="#000" stroke-width="1.0"/>
<line x1="1463.3" y1="1068.4" x2="1471.3" y2="1068.4" stroke="#000" stroke-width="1.3"/>
<line x1="1467.3" y1="1114.2" x2="1467.3" y2="1100.7" stroke="#000" stroke-width="1.0"/>
<line x1="1463.3" y1="1100.7" x2="1471.3" y2="1100.7" stroke="#000" stroke-width="1.3"/>
<line x1="1553.0" y1="999.1" x2="1553.0" y2="973.8" stroke="#000" stroke-width="1.0"/>
<line x1="1549.0" y1="973.8" x2="1557.0" y2="973.8" stroke="#000" stroke-width="1.3"/>
<line x1="1553.0" y1="1093.7" x2="1553.0" y2="1070.8" stroke="#000" stroke-width="1.0"/>
<line x1="1549.0" y1="1070.8" x2="1557.0" y2="1070.8" stroke="#000" stroke-width="1.3"/>
<line x1="1381.6" y1="974.7" x2="1381.6" y2="1230.2" stroke="#000" stroke-width="1.3"/>
<line x1="1376.1" y1="1229.5" x2="1728.4" y2="1229.5" stroke="#000" stroke-width="1.3"/>
<line x1="1376.1" y1="1229.5" x2="1381.6" y2="1229.5" stroke="#000" stroke-width="1.3"/>
<text x="1353.3" y="1236.6" font-size="20.5">0</text>
<line x1="1376.1" y1="1168.7" x2="1381.6" y2="1168.7" stroke="#000" stroke-width="1.3"/>
<text x="1357.0" y="1175.8" font-size="20.5">1</text>
<line x1="1376.1" y1="1107.9" x2="1381.6" y2="1107.9" stroke="#000" stroke-width="1.3"/>
<text x="1353.6" y="1115.1" font-size="20.5">2</text>
<line x1="1376.1" y1="1047.1" x2="1381.6" y2="1047.1" stroke="#000" stroke-width="1.3"/>
<text x="1353.4" y="1054.2" font-size="20.5">3</text>
<line x1="1376.1" y1="986.3" x2="1381.6" y2="986.3" stroke="#000" stroke-width="1.3"/>
<text x="1353.2" y="993.4" font-size="20.5">4</text>
<line x1="1381.6" y1="1229.5" x2="1381.6" y2="1234.5" stroke="#000" stroke-width="1.3"/>
<text x="1375.9" y="1260.9" font-size="20.5">0</text>
<line x1="1467.3" y1="1229.5" x2="1467.3" y2="1234.5" stroke="#000" stroke-width="1.3"/>
<text x="1461.6" y="1260.9" font-size="20.5">2</text>
<line x1="1553.0" y1="1229.5" x2="1553.0" y2="1234.5" stroke="#000" stroke-width="1.3"/>
<text x="1547.5" y="1260.9" font-size="20.5">4</text>
<line x1="1638.8" y1="1229.5" x2="1638.8" y2="1234.5" stroke="#000" stroke-width="1.3"/>
<text x="1633.0" y="1260.9" font-size="20.5">6</text>
<line x1="1724.5" y1="1229.5" x2="1724.5" y2="1234.5" stroke="#000" stroke-width="1.3"/>
<text x="1718.8" y="1260.9" font-size="20.5">8</text>
<text x="1471.8" y="1289.0" font-size="20.9">Thapsigargin (hrs)</text>
<polyline points="1381.6,1168.5 1395.7,1157.8 1424.5,1141.0 1467.3,1083.0 1553.0,999.1 1724.5,1070.2" fill="none" stroke="#000" stroke-width="1.6"/>
<polyline points="1381.6,1189.8 1395.7,1180.0 1424.5,1163.0 1467.3,1114.2 1553.0,1093.7 1724.5,1089.1" fill="none" stroke="#000" stroke-width="2.7" stroke-dasharray="16 7.5"/>
<polygon points="1381.6,1162.0 1388.8,1175.8 1374.3,1175.8" fill="#000" stroke="none" stroke-width="1.0" stroke-linejoin="round"/>
<circle cx="1381.6" cy="1189.8" r="7.2" fill="#000"/>
<polygon points="1395.7,1151.3 1403.0,1165.1 1388.5,1165.1" fill="#000" stroke="none" stroke-width="1.0" stroke-linejoin="round"/>
<circle cx="1395.7" cy="1180.0" r="7.2" fill="#000"/>
<polygon points="1424.5,1134.5 1431.7,1148.3 1417.2,1148.3" fill="#000" stroke="none" stroke-width="1.0" stroke-linejoin="round"/>
<circle cx="1424.5" cy="1163.0" r="7.2" fill="#000"/>
<polygon points="1467.3,1076.5 1474.6,1090.3 1460.1,1090.3" fill="#000" stroke="none" stroke-width="1.0" stroke-linejoin="round"/>
<circle cx="1467.3" cy="1114.2" r="7.2" fill="#000"/>
<polygon points="1553.0,992.6 1560.3,1006.4 1545.8,1006.4" fill="#000" stroke="none" stroke-width="1.0" stroke-linejoin="round"/>
<circle cx="1553.0" cy="1093.7" r="7.2" fill="#000"/>
<polygon points="1724.5,1063.7 1731.8,1077.5 1717.2,1077.5" fill="#000" stroke="none" stroke-width="1.0" stroke-linejoin="round"/>
<circle cx="1724.5" cy="1089.1" r="7.2" fill="#000"/>
<text x="1406.8" y="1192.9" font-size="15" font-weight="bold">*</text>
<text x="1435.7" y="1170.9" font-size="15" font-weight="bold">*</text>
<text x="1476.9" y="1130.4" font-size="15" font-weight="bold">*</text>
<text x="1545.7" y="1068.4" font-size="15" font-weight="bold">**</text>
<line x1="1606.4" y1="960.4" x2="1644.5" y2="960.4" stroke="#000" stroke-width="1.5"/>
<polygon points="1626.3,955.8 1632.5,967.7 1620.0,967.7" fill="#000" stroke="none" stroke-width="1.0" stroke-linejoin="round"/>
<text x="1648.5" y="966.5" font-size="21.25">siControl</text>
<line x1="1606.4" y1="992.1" x2="1644.5" y2="992.1" stroke="#000" stroke-width="2.4"/>
<circle cx="1626.3" cy="992.1" r="6.8" fill="#000"/>
<text x="1648.5" y="999.1" font-size="21.49">siSTAU1</text>
<text x="1303.0" y="1130.8" font-size="20.46" font-style="italic" transform="rotate(-90 1303.0 1130.8)">ATF4</text>
<text x="1303.0" y="1081.5" font-size="23.55" transform="rotate(-90 1303.0 1081.5)">mRNA</text>
<text x="1325.0" y="1126.0" font-size="20.88" transform="rotate(-90 1325.0 1126.0)">fold change</text></svg></body></html>
